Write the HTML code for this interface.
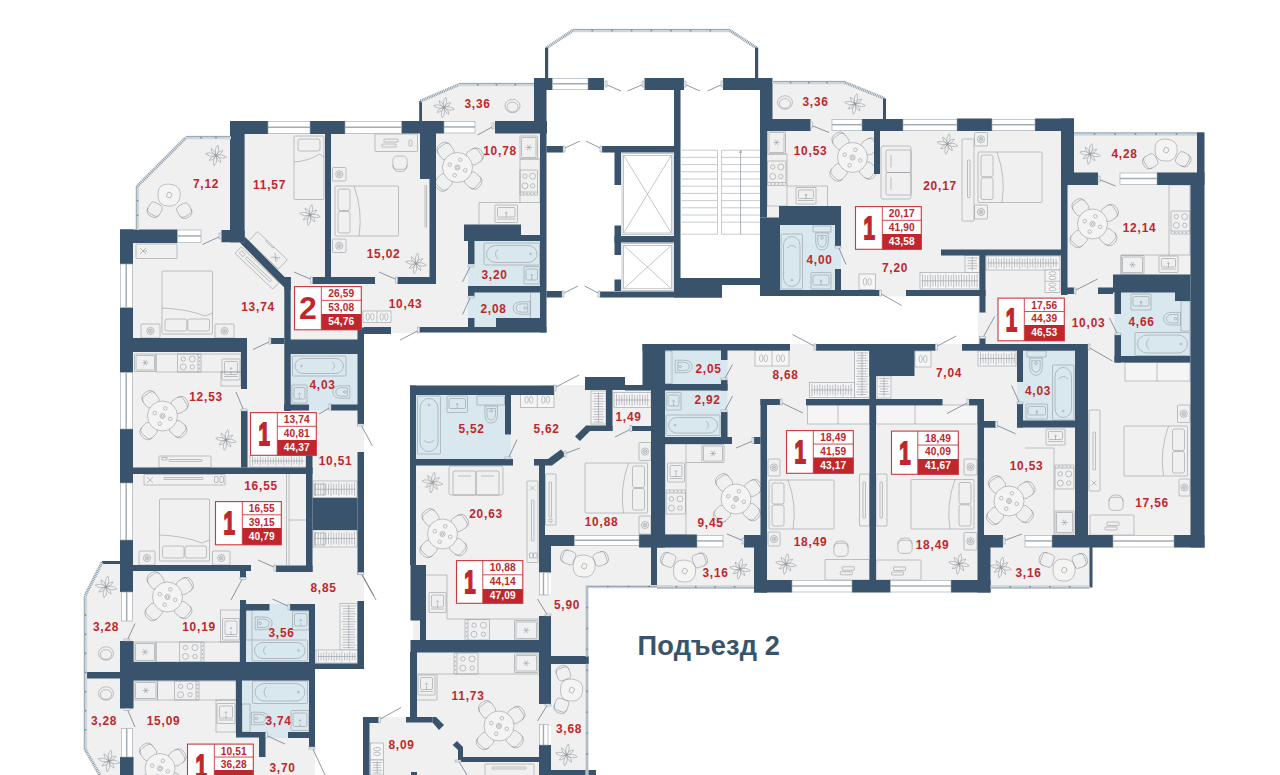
<!DOCTYPE html><html lang="ru"><head><meta charset="utf-8"><title>План этажа</title>
<style>html,body{margin:0;padding:0;background:#fff}body{width:1280px;height:775px;overflow:hidden}svg{display:block}text{font-family:"Liberation Sans",sans-serif}.l{fill:#bf272d;font-size:11.9px;font-weight:700;text-anchor:middle;letter-spacing:.8px}.s{fill:#bf272d;font-size:10.2px;font-weight:700;text-anchor:middle;letter-spacing:.15px}.sw{fill:#fff;font-size:10.2px;font-weight:700;text-anchor:middle;letter-spacing:.15px}.n{fill:#bf272d;font-size:32px;font-weight:700;text-anchor:middle}.n1{fill:#bf272d;stroke:#bf272d;stroke-width:1.8px;font-size:32px;font-weight:700;text-anchor:middle}.f{fill:none;stroke:#90959a;stroke-width:.55}.fw{fill:#f5f5f5;stroke:#90959a;stroke-width:.55}</style></head><body>
<svg width="1280" height="775" viewBox="0 0 1280 775">
<rect width="1280" height="775" fill="#fff"/>
<g fill="#f0f0f0">
<polygon points="137,186 186,137 231,137 231,230 137,230"/>
<polygon points="243,128 543,128 543,330 243,330"/>
<polygon points="389,326 422,326 422,333 389,333"/>
<polygon points="290,284 392,284 392,331 290,331"/>
<polygon points="290,284 360,284 360,341 290,341"/>
<polygon points="199,229 223,229 223,244 199,244"/>
<polygon points="473,120 497,120 497,134 473,134"/>
<polygon points="419.5,101 459,84 536,84 536,122 419.5,122"/>
<polygon points="126,243 290,243 290,775 126,775"/>
<polygon points="284,340 364,340 364,666 284,666"/>
<polygon points="284,666 315,666 315,775 284,775"/>
<polygon points="355,560 364,560 364,604 355,604"/>
<polygon points="102,562 121,562 121,775 100,775 84.5,749 84.5,596"/>
<polygon points="413,392 545,392 545,645 413,645"/>
<polygon points="539,385 655,385 655,546 539,546"/>
<polygon points="551,546 651,546 651,586 551,586"/>
<polygon points="551,586 587,586 587,775 551,775"/>
<polygon points="413,645 545,645 545,775 413,775"/>
<polygon points="366,717 460,717 460,775 366,775"/>
<polygon points="660,347 1090,347 1090,540 660,540"/>
<polygon points="765,400 980,400 980,588 765,588"/>
<polygon points="655,546 756,546 756,586 655,586"/>
<polygon points="988,546 1091,546 1091,586 988,586"/>
<polygon points="765,128 1064,128 1064,293 765,293"/>
<polygon points="877,289 908,289 908,296.5 877,296.5"/>
<polygon points="933,344 964,344 964,351 933,351"/>
<polygon points="983,252 1195,252 1195,345 983,345"/>
<polygon points="1064,180 1195,180 1195,540 1064,540"/>
<polygon points="770,82 845,82 884.5,98 884.5,120 770,120"/>
<polygon points="1072,132 1198,132 1198,175 1072,175"/>
<polygon points="1096,171 1122,171 1122,186 1096,186"/>
<polygon points="809,118 834,118 834,132 809,132"/>
<polygon points="1001,534 1027,534 1027,548 1001,548"/>
<polygon points="721,534 746,534 746,548 721,548"/>
<polygon points="538,594 552,594 552,617 538,617"/>
<polygon points="538,703 552,703 552,726 538,726"/>
<polygon points="119,620 134,620 134,642 119,642"/>
<polygon points="119,707 134,707 134,729 119,729"/>
<polygon points="788,344 818,344 818,351 788,351"/>
<polygon points="978,295 986,295 986,345 978,345"/>
</g>
<g fill="#d9e8ee">
<rect x="474.5" y="241" width="65.5" height="45"/>
<rect x="474.5" y="292.5" width="65.5" height="34.5"/>
<rect x="290" y="354" width="67.5" height="51"/>
<rect x="246" y="610" width="63" height="52"/>
<rect x="242" y="680" width="67" height="52"/>
<rect x="416" y="395" width="89" height="64"/>
<rect x="665" y="350" width="56" height="34"/>
<rect x="665" y="390" width="56" height="47"/>
<rect x="780" y="225" width="55" height="65"/>
<rect x="1121" y="292" width="69.5" height="64"/>
<rect x="1023" y="350" width="52" height="71"/>
<rect x="721" y="360" width="6.5" height="20"/>
<rect x="721" y="390" width="6.5" height="22"/>
<rect x="468" y="264" width="6.5" height="22"/>
<rect x="468" y="296.5" width="6.5" height="21.5"/>
<rect x="309" y="404.5" width="22" height="6"/>
<rect x="269.5" y="604" width="20.5" height="6.5"/>
<rect x="265.5" y="732" width="22.5" height="6"/>
<rect x="505" y="434.5" width="6" height="24.5"/>
<rect x="835" y="246" width="6" height="23"/>
<rect x="1114.5" y="314" width="6.5" height="21"/>
<rect x="1017" y="382" width="6" height="22"/>
</g>
<g class="f">
<path d="M216.0,155.5Q221.1,159.6 226.3,157.3Q222.2,153.4 216.0,155.5M216.0,155.5Q216.6,160.7 220.8,162.4Q220.7,157.8 216.0,155.5M216.0,155.5Q211.9,160.6 214.2,165.8Q218.1,161.7 216.0,155.5M216.0,155.5Q210.8,156.1 209.1,160.3Q213.7,160.2 216.0,155.5M216.0,155.5Q210.9,151.4 205.7,153.7Q209.8,157.6 216.0,155.5M216.0,155.5Q215.4,150.3 211.2,148.6Q211.3,153.2 216.0,155.5M216.0,155.5Q220.1,150.4 217.8,145.2Q213.9,149.3 216.0,155.5M216.0,155.5Q221.2,154.9 222.9,150.7Q218.3,150.8 216.0,155.5"/>
<path d="M158,195Q157.45,183.45 169,184Q182.2,185.1 180,197.2Q177.8,207.1 167.9,206Q158,206 158,195Z" fill="#f4f4f3"/>
<rect x="167" y="192.5" width="4.5" height="5" rx="1" transform="rotate(25 169 195)"/>
<g transform="translate(155,209) rotate(120)"><rect x="-5.95" y="-6.65" width="12.25" height="13.3" rx="3.85"/><path d="M2.45,-6.65Q8.75,-6.3 8.4,0Q8.75,6.3 2.45,6.65"/></g>
<g transform="translate(184,210) rotate(60)"><rect x="-5.95" y="-6.65" width="12.25" height="13.3" rx="3.85"/><path d="M2.45,-6.65Q8.75,-6.3 8.4,0Q8.75,6.3 2.45,6.65"/></g>
<rect x="294" y="136" width="30" height="63.5" rx="1"/>
<rect x="298" y="139" width="22" height="12" rx="2"/>
<path d="M294,162Q309,161 319.5,154L324,157"/>
<path d="M310.0,215.0Q315.1,219.1 320.3,216.8Q316.2,212.9 310.0,215.0M310.0,215.0Q310.6,220.2 314.8,221.9Q314.7,217.3 310.0,215.0M310.0,215.0Q305.9,220.1 308.2,225.3Q312.1,221.2 310.0,215.0M310.0,215.0Q304.8,215.6 303.1,219.8Q307.7,219.7 310.0,215.0M310.0,215.0Q304.9,210.9 299.7,213.2Q303.8,217.1 310.0,215.0M310.0,215.0Q309.4,209.8 305.2,208.1Q305.3,212.7 310.0,215.0M310.0,215.0Q314.1,209.9 311.8,204.7Q307.9,208.8 310.0,215.0M310.0,215.0Q315.2,214.4 316.9,210.2Q312.3,210.3 310.0,215.0"/>
<g transform="translate(268,250.3) rotate(43.5)"><rect x="-20.5" y="-6.5" width="41" height="13" rx="1"/><path d="M-8,-6.5v1.5h10v-1.5"/><path d="M10,0l4,-3m-4,3l4,3m-4,-3l-3,-3m3,3l-3,3m3,-3h4"/></g>
<g transform="translate(257,268) rotate(43.5)"><rect x="-26" y="-4.5" width="52" height="9" rx="1"/><rect x="-15" y="-1.2" width="34" height="2.4" rx=".6"/><rect x="-23" y="-2" width="5" height="3.5"/></g>
<rect x="375" y="134" width="42.5" height="17.5" rx="0.5"/>
<rect x="384" y="139" width="14" height="3" rx="0.5"/>
<rect x="382" y="144" width="14" height="3" rx="0.5"/>
<rect x="409" y="140" width="3" height="6" rx="0.5"/>
<g transform="translate(400,162.5) rotate(90)"><rect x="-6.375" y="-7.125" width="13.125" height="14.25" rx="4.125"/><path d="M2.625,-7.125Q9.375,-6.75 9,0Q9.375,6.75 2.625,7.125"/></g>
<rect x="332.5" y="167.5" width="13.5" height="13.5" rx="1"/>
<circle cx="339.25" cy="174.25" r="3.6"/>
<circle cx="339.25" cy="174.25" r="2"/>
<circle cx="339.25" cy="174.25" r="0.8"/>
<rect x="332.5" y="239" width="13.5" height="13.5" rx="1"/>
<circle cx="339.25" cy="245.75" r="3.6"/>
<circle cx="339.25" cy="245.75" r="2"/>
<circle cx="339.25" cy="245.75" r="0.8"/>
<rect x="335" y="186" width="63.5" height="50" rx="1"/>
<rect x="338" y="189" width="12" height="21.5" rx="2"/>
<rect x="338" y="211.5" width="12" height="21.5" rx="2"/>
<path d="M354,186Q363,211 359,236"/>
<path d="M416.0,263.5Q421.1,267.6 426.3,265.3Q422.2,261.4 416.0,263.5M416.0,263.5Q416.6,268.7 420.8,270.4Q420.7,265.8 416.0,263.5M416.0,263.5Q411.9,268.6 414.2,273.8Q418.1,269.7 416.0,263.5M416.0,263.5Q410.8,264.1 409.1,268.3Q413.7,268.2 416.0,263.5M416.0,263.5Q410.9,259.4 405.7,261.7Q409.8,265.6 416.0,263.5M416.0,263.5Q415.4,258.3 411.2,256.6Q411.3,261.2 416.0,263.5M416.0,263.5Q420.1,258.4 417.8,253.2Q413.9,257.3 416.0,263.5M416.0,263.5Q421.2,262.9 422.9,258.7Q418.3,258.8 416.0,263.5"/>
<line x1="426.5" y1="185" x2="426.5" y2="227.5"/>
<line x1="425" y1="185" x2="425" y2="227.5"/>
<g transform="translate(472.576,180.15) rotate(40)"><rect x="-6.63" y="-7.41" width="13.65" height="14.82" rx="4.29"/><path d="M2.73,-7.41Q9.75,-7.02 9.36,0Q9.75,7.02 2.73,7.41"/></g>
<g transform="translate(444.078,181.893) rotate(133)"><rect x="-6.63" y="-7.41" width="13.65" height="14.82" rx="4.29"/><path d="M2.73,-7.41Q9.75,-7.02 9.36,0Q9.75,7.02 2.73,7.41"/></g>
<g transform="translate(445.932,151.579) rotate(234)"><rect x="-6.63" y="-7.41" width="13.65" height="14.82" rx="4.29"/><path d="M2.73,-7.41Q9.75,-7.02 9.36,0Q9.75,7.02 2.73,7.41"/></g>
<g transform="translate(474.005,156.782) rotate(327)"><rect x="-6.63" y="-7.41" width="13.65" height="14.82" rx="4.29"/><path d="M2.73,-7.41Q9.75,-7.02 9.36,0Q9.75,7.02 2.73,7.41"/></g>
<circle cx="457.5" cy="167.5" r="15" fill="#f4f4f3"/>
<circle cx="457.5" cy="167.5" r="2.6"/>
<circle cx="457.5" cy="167.5" r="1.3"/>
<circle cx="465.252" cy="170.322" r="1.8"/>
<circle cx="454.678" cy="175.252" r="1.8"/>
<circle cx="449.748" cy="164.678" r="1.8"/>
<circle cx="460.322" cy="159.748" r="1.8"/>
<rect x="520" y="136" width="17.5" height="23" rx="0.5"/>
<rect x="521.5" y="137.5" width="14.5" height="20" rx="0.5"/>
<path d="M525.5,147.5L532.0,147.5M527.1,144.7L530.4,150.3M530.4,144.7L527.1,150.3"/>
<rect x="520" y="159" width="20" height="43.5"/>
<rect x="520" y="170" width="17.5" height="25" rx="0.5"/>
<line x1="520" y1="192" x2="537.5" y2="192"/>
<circle cx="523.5" cy="193.5" r="0.5"/>
<circle cx="527" cy="193.5" r="0.5"/>
<circle cx="530.5" cy="193.5" r="0.5"/>
<circle cx="534" cy="193.5" r="0.5"/>
<circle cx="524.9" cy="176.16" r="2.2"/>
<circle cx="532.6" cy="176.16" r="3"/>
<circle cx="524.9" cy="185.84" r="3"/>
<circle cx="532.6" cy="185.84" r="2.2"/>
<path d="M479,224.5V202.5H520"/>
<rect x="495" y="205" width="22.5" height="17.5" rx="0.8"/>
<rect x="497.5" y="207.5" width="17.5" height="9.5" rx="1"/>
<circle cx="506.25" cy="212.75" r="0.8"/>
<line x1="506.25" y1="217.5" x2="506.25" y2="213.5"/>
<line x1="497" y1="219" x2="515.5" y2="219"/>
<path d="M444.0,107.5Q449.1,111.6 454.3,109.3Q450.2,105.4 444.0,107.5M444.0,107.5Q444.6,112.7 448.8,114.4Q448.7,109.8 444.0,107.5M444.0,107.5Q439.9,112.6 442.2,117.8Q446.1,113.7 444.0,107.5M444.0,107.5Q438.8,108.1 437.1,112.3Q441.7,112.2 444.0,107.5M444.0,107.5Q438.9,103.4 433.7,105.7Q437.8,109.6 444.0,107.5M444.0,107.5Q443.4,102.3 439.2,100.6Q439.3,105.2 444.0,107.5M444.0,107.5Q448.1,102.4 445.8,97.2Q441.9,101.3 444.0,107.5M444.0,107.5Q449.2,106.9 450.9,102.7Q446.3,102.8 444.0,107.5"/>
<ellipse cx="512.5" cy="106" rx="7.5" ry="6.75"/><ellipse cx="512.5" cy="107" rx="5.625" ry="4.875"/>
<rect x="484" y="243" width="55.5" height="22" rx="1"/>
<rect x="486.5" y="245.5" width="50.5" height="17" rx="9"/>
<circle cx="530.5" cy="254" r="0.9"/>
<path d="M498,249Q493,254 498,259"/>
<rect x="524" y="266.5" width="15.5" height="17.5" rx="0.8"/>
<rect x="526" y="269" width="11.5" height="11" rx="1.5"/>
<circle cx="531.75" cy="275.25" r="0.8"/>
<line x1="531.75" y1="280" x2="531.75" y2="277"/>
<g transform="translate(524.2,308) rotate(180)"><path d="M-6,-6.3H2Q11,-6.3 11,0Q11,6.3 2,6.3H-6Z"/><path d="M-3.5,-4.2H2Q8,-4.2 8,0Q8,4.2 2,4.2H-3.5Z"/><circle cx="-1" cy="0" r="1.3"/></g>
<line x1="530.5" y1="292.5" x2="530.5" y2="318"/>
<rect class="fw" x="363" y="311" width="28" height="11.5"/>
<ellipse cx="367.7" cy="316.75" rx="1.7" ry="3.6"/>
<ellipse cx="372.3" cy="316.75" rx="1.7" ry="3.6"/>
<ellipse cx="381.7" cy="316.75" rx="1.7" ry="3.6"/>
<ellipse cx="386.3" cy="316.75" rx="1.7" ry="3.6"/>
<line x1="377" y1="311" x2="377" y2="322.5"/>
<rect x="136" y="244" width="41" height="14.5" rx="0.5"/>
<path d="M143,251l3,-3m-3,3l3,3m-3,-3l-3,-3m3,3l-3,3m3,-3h4"/>
<rect x="162" y="271" width="50.5" height="63" rx="1"/>
<rect x="165" y="319" width="21.75" height="12" rx="2"/>
<rect x="187.75" y="319" width="21.75" height="12" rx="2"/>
<path d="M162,308Q187.25,309 204.925,316L212.5,313"/>
<rect x="141" y="324" width="19" height="14" rx="1"/>
<circle cx="150.5" cy="331" r="3.6"/>
<circle cx="150.5" cy="331" r="2"/>
<circle cx="150.5" cy="331" r="0.8"/>
<rect x="215" y="324" width="19" height="14" rx="1"/>
<circle cx="224.5" cy="331" r="3.6"/>
<circle cx="224.5" cy="331" r="2"/>
<circle cx="224.5" cy="331" r="0.8"/>
<rect x="134.5" y="354" width="21.5" height="17.5" rx="0.5"/>
<rect x="136" y="355.5" width="18.5" height="14.5" rx="0.5"/>
<path d="M142.1,362.8L148.4,362.8M143.7,360.0L146.8,365.5M146.8,360.0L143.7,365.5"/>
<rect x="156" y="354" width="85" height="18"/>
<rect x="177.5" y="354" width="23.5" height="18" rx="0.5"/>
<line x1="198" y1="354" x2="198" y2="372"/>
<circle cx="199.5" cy="357.6" r="0.5"/>
<circle cx="199.5" cy="361.2" r="0.5"/>
<circle cx="199.5" cy="364.8" r="0.5"/>
<circle cx="199.5" cy="368.4" r="0.5"/>
<circle cx="183.24" cy="359.04" r="2.2"/>
<circle cx="183.24" cy="366.96" r="3"/>
<circle cx="192.26" cy="359.04" r="3"/>
<circle cx="192.26" cy="366.96" r="2.2"/>
<rect x="221" y="372" width="20" height="14"/>
<rect x="222" y="359" width="18" height="21" rx="0.8"/>
<rect x="224.5" y="361.5" width="13" height="13" rx="1"/>
<circle cx="231" cy="368.5" r="0.8"/>
<line x1="231" y1="375" x2="231" y2="371"/>
<line x1="224" y1="376.5" x2="238" y2="376.5"/>
<g transform="translate(177.576,428.65) rotate(40)"><rect x="-6.63" y="-7.41" width="13.65" height="14.82" rx="4.29"/><path d="M2.73,-7.41Q9.75,-7.02 9.36,0Q9.75,7.02 2.73,7.41"/></g>
<g transform="translate(149.078,430.393) rotate(133)"><rect x="-6.63" y="-7.41" width="13.65" height="14.82" rx="4.29"/><path d="M2.73,-7.41Q9.75,-7.02 9.36,0Q9.75,7.02 2.73,7.41"/></g>
<g transform="translate(150.932,400.079) rotate(234)"><rect x="-6.63" y="-7.41" width="13.65" height="14.82" rx="4.29"/><path d="M2.73,-7.41Q9.75,-7.02 9.36,0Q9.75,7.02 2.73,7.41"/></g>
<g transform="translate(179.005,405.282) rotate(327)"><rect x="-6.63" y="-7.41" width="13.65" height="14.82" rx="4.29"/><path d="M2.73,-7.41Q9.75,-7.02 9.36,0Q9.75,7.02 2.73,7.41"/></g>
<circle cx="162.5" cy="416" r="15" fill="#f4f4f3"/>
<circle cx="162.5" cy="416" r="2.6"/>
<circle cx="162.5" cy="416" r="1.3"/>
<circle cx="170.252" cy="418.822" r="1.8"/>
<circle cx="159.678" cy="423.752" r="1.8"/>
<circle cx="154.748" cy="413.178" r="1.8"/>
<circle cx="165.322" cy="408.248" r="1.8"/>
<path d="M226.0,440.0Q231.1,444.1 236.3,441.8Q232.2,437.9 226.0,440.0M226.0,440.0Q226.6,445.2 230.8,446.9Q230.7,442.3 226.0,440.0M226.0,440.0Q221.9,445.1 224.2,450.3Q228.1,446.2 226.0,440.0M226.0,440.0Q220.8,440.6 219.1,444.8Q223.7,444.7 226.0,440.0M226.0,440.0Q220.9,435.9 215.7,438.2Q219.8,442.1 226.0,440.0M226.0,440.0Q225.4,434.8 221.2,433.1Q221.3,437.7 226.0,440.0M226.0,440.0Q230.1,434.9 227.8,429.7Q223.9,433.8 226.0,440.0M226.0,440.0Q231.2,439.4 232.9,435.2Q228.3,435.3 226.0,440.0"/>
<rect x="159" y="456" width="52" height="11.5" rx="0.5"/>
<rect x="169" y="459.5" width="33" height="2" rx="0.5"/>
<rect x="162" y="457.5" width="5" height="2.5"/>
<rect x="292.5" y="356" width="53.5" height="20" rx="1"/>
<rect x="295" y="358.5" width="48.5" height="15" rx="8"/>
<circle cx="301.5" cy="366" r="0.9"/>
<path d="M332,362Q337,366 332,370"/>
<rect x="292" y="385" width="15" height="18" rx="0.8"/>
<rect x="294" y="387.5" width="11" height="11.5" rx="1.5"/>
<circle cx="299.5" cy="394" r="0.8"/>
<line x1="299.5" y1="399" x2="299.5" y2="396"/>
<g transform="translate(343.8,392) rotate(180)"><path d="M-6,-6.3H2Q11,-6.3 11,0Q11,6.3 2,6.3H-6Z"/><path d="M-3.5,-4.2H2Q8,-4.2 8,0Q8,4.2 2,4.2H-3.5Z"/><circle cx="-1" cy="0" r="1.3"/></g>
<rect x="144" y="474.5" width="81" height="10.5" rx="0.5"/>
<rect x="164" y="477.5" width="39" height="2" rx="0.5"/>
<path d="M150,480l3,-3m-3,3l3,3m-3,-3l-3,-3m3,3l-3,3"/>
<rect x="214.5" y="476.5" width="3.5" height="6" rx="0.5"/>
<rect x="220" y="476.5" width="3.5" height="6" rx="0.5"/>
<rect x="159.5" y="499" width="50" height="62" rx="1"/>
<rect x="162.5" y="546" width="21.5" height="12" rx="2"/>
<rect x="185" y="546" width="21.5" height="12" rx="2"/>
<path d="M159.5,535Q184.5,536 202,543L209.5,540"/>
<rect x="139" y="551" width="16" height="14" rx="1"/>
<circle cx="147" cy="558" r="3.6"/>
<circle cx="147" cy="558" r="2"/>
<circle cx="147" cy="558" r="0.8"/>
<rect x="212.5" y="551" width="17.5" height="14" rx="1"/>
<circle cx="221.25" cy="558" r="3.6"/>
<circle cx="221.25" cy="558" r="2"/>
<circle cx="221.25" cy="558" r="0.8"/>
<line x1="286.5" y1="474" x2="286.5" y2="565"/>
<line x1="289" y1="474" x2="289" y2="565"/>
<line x1="289" y1="520" x2="306" y2="520"/>
<rect class="fw" x="250" y="455" width="56" height="12"/>
<path d="M252.5,456.5V465.5M255.1,457.7V464.3M257.7,457.7V464.3M260.3,456.5V465.5M262.9,457.7V464.3M265.5,457.7V464.3M268.1,456.5V465.5M270.7,457.7V464.3M273.3,457.7V464.3M275.9,456.5V465.5M278.5,457.7V464.3M281.1,457.7V464.3M283.7,456.5V465.5M286.3,457.7V464.3M288.9,457.7V464.3M291.5,456.5V465.5M294.1,457.7V464.3M296.7,457.7V464.3M299.3,456.5V465.5M301.9,457.7V464.3M251.5,461H304.5"/>
<rect class="fw" x="313" y="481" width="44" height="16.5"/>
<path d="M315.5,482.5V496M318.1,483.7V494.8M320.7,483.7V494.8M323.3,482.5V496M325.9,483.7V494.8M328.5,483.7V494.8M331.1,482.5V496M333.7,483.7V494.8M336.3,483.7V494.8M338.9,482.5V496M341.5,483.7V494.8M344.1,483.7V494.8M346.7,482.5V496M349.3,483.7V494.8M351.9,483.7V494.8M354.5,482.5V496M314.5,489.25H355.5"/>
<rect class="fw" x="313" y="530" width="44" height="17"/>
<path d="M315.5,531.5V545.5M318.1,532.7V544.3M320.7,532.7V544.3M323.3,531.5V545.5M325.9,532.7V544.3M328.5,532.7V544.3M331.1,531.5V545.5M333.7,532.7V544.3M336.3,532.7V544.3M338.9,531.5V545.5M341.5,532.7V544.3M344.1,532.7V544.3M346.7,531.5V545.5M349.3,532.7V544.3M351.9,532.7V544.3M354.5,531.5V545.5M314.5,538.5H355.5"/>
<rect x="314.5" y="484" width="10.5" height="11"/>
<rect x="314.5" y="533" width="10.5" height="12"/>
<g transform="translate(182.576,609.65) rotate(40)"><rect x="-6.63" y="-7.41" width="13.65" height="14.82" rx="4.29"/><path d="M2.73,-7.41Q9.75,-7.02 9.36,0Q9.75,7.02 2.73,7.41"/></g>
<g transform="translate(154.078,611.393) rotate(133)"><rect x="-6.63" y="-7.41" width="13.65" height="14.82" rx="4.29"/><path d="M2.73,-7.41Q9.75,-7.02 9.36,0Q9.75,7.02 2.73,7.41"/></g>
<g transform="translate(155.932,581.079) rotate(234)"><rect x="-6.63" y="-7.41" width="13.65" height="14.82" rx="4.29"/><path d="M2.73,-7.41Q9.75,-7.02 9.36,0Q9.75,7.02 2.73,7.41"/></g>
<g transform="translate(184.005,586.282) rotate(327)"><rect x="-6.63" y="-7.41" width="13.65" height="14.82" rx="4.29"/><path d="M2.73,-7.41Q9.75,-7.02 9.36,0Q9.75,7.02 2.73,7.41"/></g>
<circle cx="167.5" cy="597" r="15" fill="#f4f4f3"/>
<circle cx="167.5" cy="597" r="2.6"/>
<circle cx="167.5" cy="597" r="1.3"/>
<circle cx="175.252" cy="599.822" r="1.8"/>
<circle cx="164.678" cy="604.752" r="1.8"/>
<circle cx="159.748" cy="594.178" r="1.8"/>
<circle cx="170.322" cy="589.248" r="1.8"/>
<rect x="134" y="642" width="22" height="20" rx="0.5"/>
<rect x="135.5" y="643.5" width="19" height="17" rx="0.5"/>
<path d="M141.8,652.0L148.2,652.0M143.4,649.2L146.6,654.8M146.6,649.2L143.4,654.8"/>
<rect x="156" y="642" width="84" height="20"/>
<rect x="179.5" y="642" width="24.5" height="20" rx="0.5"/>
<line x1="201" y1="642" x2="201" y2="662"/>
<circle cx="202.5" cy="646" r="0.5"/>
<circle cx="202.5" cy="650" r="0.5"/>
<circle cx="202.5" cy="654" r="0.5"/>
<circle cx="202.5" cy="658" r="0.5"/>
<circle cx="185.52" cy="647.6" r="2.2"/>
<circle cx="185.52" cy="656.4" r="3"/>
<circle cx="194.98" cy="647.6" r="3"/>
<circle cx="194.98" cy="656.4" r="2.2"/>
<rect x="220.5" y="610" width="19.5" height="32"/>
<rect x="222.5" y="618.5" width="17" height="21.5" rx="0.8"/>
<rect x="225" y="621" width="12" height="13.5" rx="1"/>
<circle cx="231" cy="628.25" r="0.8"/>
<line x1="231" y1="635" x2="231" y2="631"/>
<line x1="224.5" y1="636.5" x2="237.5" y2="636.5"/>
<g transform="translate(261.1,623.3) rotate(0)"><path d="M-6,-6.3H2Q11,-6.3 11,0Q11,6.3 2,6.3H-6Z"/><path d="M-3.5,-4.2H2Q8,-4.2 8,0Q8,4.2 2,4.2H-3.5Z"/><circle cx="-1" cy="0" r="1.3"/></g>
<rect x="292.5" y="611" width="16.5" height="19" rx="0.8"/>
<rect x="294.5" y="613.5" width="12.5" height="12.5" rx="1.5"/>
<circle cx="300.75" cy="620.5" r="0.8"/>
<line x1="300.75" y1="626" x2="300.75" y2="623"/>
<rect x="252" y="640" width="55.5" height="21" rx="1"/>
<rect x="254.5" y="642.5" width="50.5" height="16" rx="8.5"/>
<circle cx="298.5" cy="650.5" r="0.9"/>
<path d="M266,646Q261,650.5 266,655"/>
<rect x="246" y="610" width="6" height="30"/>
<rect x="134" y="681" width="23.5" height="19" rx="0.5"/>
<rect x="135.5" y="682.5" width="20.5" height="16" rx="0.5"/>
<path d="M142.6,690.5L148.9,690.5M144.2,687.7L147.3,693.3M147.3,687.7L144.2,693.3"/>
<rect x="157.5" y="681" width="78.5" height="19"/>
<rect x="174.5" y="681" width="24.5" height="19" rx="0.5"/>
<line x1="196" y1="681" x2="196" y2="700"/>
<circle cx="197.5" cy="684.8" r="0.5"/>
<circle cx="197.5" cy="688.6" r="0.5"/>
<circle cx="197.5" cy="692.4" r="0.5"/>
<circle cx="197.5" cy="696.2" r="0.5"/>
<circle cx="180.52" cy="686.32" r="2.2"/>
<circle cx="180.52" cy="694.68" r="3"/>
<circle cx="189.98" cy="686.32" r="3"/>
<circle cx="189.98" cy="694.68" r="2.2"/>
<rect x="216" y="700" width="20" height="32"/>
<rect x="217" y="703.5" width="18" height="20" rx="0.8"/>
<rect x="219.5" y="706" width="13" height="12" rx="1"/>
<circle cx="226" cy="712.5" r="0.8"/>
<line x1="226" y1="718.5" x2="226" y2="714.5"/>
<line x1="219" y1="720" x2="233" y2="720"/>
<g transform="translate(175.076,781.15) rotate(40)"><rect x="-6.63" y="-7.41" width="13.65" height="14.82" rx="4.29"/><path d="M2.73,-7.41Q9.75,-7.02 9.36,0Q9.75,7.02 2.73,7.41"/></g>
<g transform="translate(146.578,782.893) rotate(133)"><rect x="-6.63" y="-7.41" width="13.65" height="14.82" rx="4.29"/><path d="M2.73,-7.41Q9.75,-7.02 9.36,0Q9.75,7.02 2.73,7.41"/></g>
<g transform="translate(148.432,752.579) rotate(234)"><rect x="-6.63" y="-7.41" width="13.65" height="14.82" rx="4.29"/><path d="M2.73,-7.41Q9.75,-7.02 9.36,0Q9.75,7.02 2.73,7.41"/></g>
<g transform="translate(176.505,757.782) rotate(327)"><rect x="-6.63" y="-7.41" width="13.65" height="14.82" rx="4.29"/><path d="M2.73,-7.41Q9.75,-7.02 9.36,0Q9.75,7.02 2.73,7.41"/></g>
<circle cx="160" cy="768.5" r="15" fill="#f4f4f3"/>
<circle cx="160" cy="768.5" r="2.6"/>
<circle cx="160" cy="768.5" r="1.3"/>
<circle cx="167.752" cy="771.322" r="1.8"/>
<circle cx="157.178" cy="776.252" r="1.8"/>
<circle cx="152.248" cy="765.678" r="1.8"/>
<circle cx="162.822" cy="760.748" r="1.8"/>
<rect x="252.5" y="681" width="55" height="22.5" rx="1"/>
<rect x="255" y="683.5" width="50" height="17.5" rx="9.25"/>
<circle cx="298.5" cy="692.25" r="0.9"/>
<path d="M266.5,687Q261.5,692.25 266.5,697.5"/>
<g transform="translate(257.5,718.5) rotate(0)"><path d="M-6,-6.3H2Q11,-6.3 11,0Q11,6.3 2,6.3H-6Z"/><path d="M-3.5,-4.2H2Q8,-4.2 8,0Q8,4.2 2,4.2H-3.5Z"/><circle cx="-1" cy="0" r="1.3"/></g>
<rect x="291" y="710.5" width="18" height="20" rx="0.8"/>
<rect x="293" y="713" width="14" height="13.5" rx="1.5"/>
<circle cx="300" cy="720.5" r="0.8"/>
<line x1="300" y1="726.5" x2="300" y2="723.5"/>
<rect x="242" y="704" width="8" height="28"/>
<path d="M106.0,587.0Q111.3,591.3 116.8,588.9Q112.5,584.8 106.0,587.0M106.0,587.0Q106.6,592.4 111.0,594.2Q110.9,589.4 106.0,587.0M106.0,587.0Q101.7,592.3 104.1,597.8Q108.2,593.5 106.0,587.0M106.0,587.0Q100.6,587.6 98.8,592.0Q103.6,591.9 106.0,587.0M106.0,587.0Q100.7,582.7 95.2,585.1Q99.5,589.2 106.0,587.0M106.0,587.0Q105.4,581.6 101.0,579.8Q101.1,584.6 106.0,587.0M106.0,587.0Q110.3,581.7 107.9,576.2Q103.8,580.5 106.0,587.0M106.0,587.0Q111.4,586.4 113.2,582.0Q108.4,582.1 106.0,587.0"/>
<ellipse cx="106" cy="653.5" rx="7.5" ry="6.75"/><ellipse cx="106" cy="654.5" rx="5.625" ry="4.875"/>
<ellipse cx="106" cy="693.5" rx="7.5" ry="6.75"/><ellipse cx="106" cy="694.5" rx="5.625" ry="4.875"/>
<path d="M109.0,761.0Q114.3,765.3 119.8,762.9Q115.5,758.8 109.0,761.0M109.0,761.0Q109.6,766.4 114.0,768.2Q113.9,763.4 109.0,761.0M109.0,761.0Q104.7,766.3 107.1,771.8Q111.2,767.5 109.0,761.0M109.0,761.0Q103.6,761.6 101.8,766.0Q106.6,765.9 109.0,761.0M109.0,761.0Q103.7,756.7 98.2,759.1Q102.5,763.2 109.0,761.0M109.0,761.0Q108.4,755.6 104.0,753.8Q104.1,758.6 109.0,761.0M109.0,761.0Q113.3,755.7 110.9,750.2Q106.8,754.5 109.0,761.0M109.0,761.0Q114.4,760.4 116.2,756.0Q111.4,756.1 109.0,761.0"/>
<rect class="fw" x="340" y="603.5" width="17.5" height="46.5"/>
<path d="M341.5,606.0H356M342.7,608.6H354.8M342.7,611.2H354.8M341.5,613.8H356M342.7,616.4H354.8M342.7,619.0H354.8M341.5,621.6H356M342.7,624.2H354.8M342.7,626.8H354.8M341.5,629.4H356M342.7,632.0H354.8M342.7,634.6H354.8M341.5,637.2H356M342.7,639.8H354.8M342.7,642.4H354.8M341.5,645.0H356M342.7,647.6H354.8M348.75,605V648.5"/>
<rect class="fw" x="316" y="650" width="41.5" height="13"/>
<path d="M318.5,651.5V661.5M321.1,652.7V660.3M323.7,652.7V660.3M326.3,651.5V661.5M328.9,652.7V660.3M331.5,652.7V660.3M334.1,651.5V661.5M336.7,652.7V660.3M339.3,652.7V660.3M341.9,651.5V661.5M344.5,652.7V660.3M347.1,652.7V660.3M349.7,651.5V661.5M352.3,652.7V660.3M354.9,652.7V660.3M317.5,656.5H356"/>
<rect x="417.5" y="396" width="23" height="58" rx="1"/>
<rect x="420" y="398.5" width="18" height="53" rx="9.5"/>
<circle cx="429" cy="405" r="0.9"/>
<path d="M423.5,440Q429,445 434.5,440"/>
<rect x="447" y="396" width="20.5" height="16.5" rx="0.8"/>
<rect x="449" y="398.5" width="16.5" height="10" rx="1.5"/>
<circle cx="457.25" cy="404.25" r="0.8"/>
<line x1="457.25" y1="408.5" x2="457.25" y2="405.5"/>
<rect x="477" y="396" width="27.5" height="9"/>
<g transform="translate(491.2,412) rotate(90)"><path d="M-6,-6.3H2Q11,-6.3 11,0Q11,6.3 2,6.3H-6Z"/><path d="M-3.5,-4.2H2Q8,-4.2 8,0Q8,4.2 2,4.2H-3.5Z"/><circle cx="-1" cy="0" r="1.3"/></g>
<rect class="fw" x="520.5" y="392" width="33.5" height="15.5"/>
<ellipse cx="526.575" cy="399.75" rx="1.7" ry="3.6"/>
<ellipse cx="531.175" cy="399.75" rx="1.7" ry="3.6"/>
<ellipse cx="543.325" cy="399.75" rx="1.7" ry="3.6"/>
<ellipse cx="547.925" cy="399.75" rx="1.7" ry="3.6"/>
<line x1="537.25" y1="392" x2="537.25" y2="407.5"/>
<rect class="fw" x="591" y="391" width="15" height="33"/>
<path d="M592.5,393.5H604.5M593.7,396.1H603.3M593.7,398.7H603.3M592.5,401.3H604.5M593.7,403.9H603.3M593.7,406.5H603.3M592.5,409.1H604.5M593.7,411.7H603.3M593.7,414.3H603.3M592.5,416.9H604.5M593.7,419.5H603.3M593.7,422.1H603.3M598.5,392.5V422.5"/>
<rect class="fw" x="614" y="392.5" width="37" height="15"/>
<path d="M616.5,394V406M619.1,395.2V404.8M621.7,395.2V404.8M624.3,394V406M626.9,395.2V404.8M629.5,395.2V404.8M632.1,394V406M634.7,395.2V404.8M637.3,395.2V404.8M639.9,394V406M642.5,395.2V404.8M645.1,395.2V404.8M647.7,394V406M615.5,400H649.5"/>
<path d="M432.5,482.5Q437.6,486.6 442.8,484.3Q438.7,480.4 432.5,482.5M432.5,482.5Q433.1,487.7 437.3,489.4Q437.2,484.8 432.5,482.5M432.5,482.5Q428.4,487.6 430.7,492.8Q434.6,488.7 432.5,482.5M432.5,482.5Q427.3,483.1 425.6,487.3Q430.2,487.2 432.5,482.5M432.5,482.5Q427.4,478.4 422.2,480.7Q426.3,484.6 432.5,482.5M432.5,482.5Q431.9,477.3 427.7,475.6Q427.8,480.2 432.5,482.5M432.5,482.5Q436.6,477.4 434.3,472.2Q430.4,476.3 432.5,482.5M432.5,482.5Q437.7,481.9 439.4,477.7Q434.8,477.8 432.5,482.5"/>
<rect x="449" y="466" width="54" height="29" rx="2"/>
<rect x="453" y="471" width="23" height="24" rx="1.5"/>
<rect x="476" y="471" width="23" height="24" rx="1.5"/>
<line x1="458" y1="476" x2="471" y2="476"/>
<line x1="481" y1="476" x2="494" y2="476"/>
<g transform="translate(457.576,546.65) rotate(40)"><rect x="-6.63" y="-7.41" width="13.65" height="14.82" rx="4.29"/><path d="M2.73,-7.41Q9.75,-7.02 9.36,0Q9.75,7.02 2.73,7.41"/></g>
<g transform="translate(429.078,548.393) rotate(133)"><rect x="-6.63" y="-7.41" width="13.65" height="14.82" rx="4.29"/><path d="M2.73,-7.41Q9.75,-7.02 9.36,0Q9.75,7.02 2.73,7.41"/></g>
<g transform="translate(430.932,518.079) rotate(234)"><rect x="-6.63" y="-7.41" width="13.65" height="14.82" rx="4.29"/><path d="M2.73,-7.41Q9.75,-7.02 9.36,0Q9.75,7.02 2.73,7.41"/></g>
<g transform="translate(459.005,523.282) rotate(327)"><rect x="-6.63" y="-7.41" width="13.65" height="14.82" rx="4.29"/><path d="M2.73,-7.41Q9.75,-7.02 9.36,0Q9.75,7.02 2.73,7.41"/></g>
<circle cx="442.5" cy="534" r="15" fill="#f4f4f3"/>
<circle cx="442.5" cy="534" r="2.6"/>
<circle cx="442.5" cy="534" r="1.3"/>
<circle cx="450.252" cy="536.822" r="1.8"/>
<circle cx="439.678" cy="541.752" r="1.8"/>
<circle cx="434.748" cy="531.178" r="1.8"/>
<circle cx="445.322" cy="526.248" r="1.8"/>
<rect x="527" y="481" width="11" height="81.5" rx="0.5"/>
<rect x="531.5" y="500" width="2.5" height="41" rx="0.5"/>
<path d="M532.5,488l2.5,-2.5m-2.5,2.5l2.5,2.5m-2.5,-2.5l-2.5,-2.5m2.5,2.5l-2.5,2.5"/>
<rect x="529.5" y="553" width="3.5" height="5" rx="0.5"/>
<rect x="533.5" y="553" width="3.5" height="5" rx="0.5"/>
<rect x="545.5" y="474" width="10.5" height="51" rx="0.5"/>
<rect x="549" y="482" width="2.5" height="35" rx="0.5"/>
<rect x="549" y="519" width="3" height="3"/>
<rect x="585" y="463" width="62.5" height="50" rx="1"/>
<rect x="632.5" y="466" width="12" height="21.5" rx="2"/>
<rect x="632.5" y="488.5" width="12" height="21.5" rx="2"/>
<path d="M628.5,463Q619.5,488 623.5,513"/>
<rect x="639" y="442.5" width="12" height="18" rx="1"/>
<circle cx="645" cy="451.5" r="3.6"/>
<circle cx="645" cy="451.5" r="2"/>
<circle cx="645" cy="451.5" r="0.8"/>
<rect x="639" y="516" width="12" height="18" rx="1"/>
<circle cx="645" cy="525" r="3.6"/>
<circle cx="645" cy="525" r="2"/>
<circle cx="645" cy="525" r="0.8"/>
<path d="M426,575H447V619H539"/>
<rect x="429" y="592.5" width="17" height="20" rx="0.8"/>
<rect x="431.5" y="595" width="12" height="12" rx="1"/>
<circle cx="437.5" cy="601.5" r="0.8"/>
<line x1="437.5" y1="607.5" x2="437.5" y2="603.5"/>
<line x1="431" y1="609" x2="444" y2="609"/>
<rect x="465" y="619.5" width="24.5" height="20.5" rx="0.5"/>
<line x1="468" y1="619.5" x2="468" y2="640"/>
<circle cx="466.5" cy="623.6" r="0.5"/>
<circle cx="466.5" cy="627.7" r="0.5"/>
<circle cx="466.5" cy="631.8" r="0.5"/>
<circle cx="466.5" cy="635.9" r="0.5"/>
<circle cx="474.02" cy="625.24" r="2.2"/>
<circle cx="474.02" cy="634.26" r="3"/>
<circle cx="483.48" cy="625.24" r="3"/>
<circle cx="483.48" cy="634.26" r="2.2"/>
<rect x="514.5" y="620.5" width="23.5" height="19.5" rx="0.5"/>
<rect x="516" y="622" width="20.5" height="16.5" rx="0.5"/>
<path d="M523.0,630.2L529.5,630.2M524.6,627.5L527.9,633.0M527.9,627.5L524.6,633.0"/>
<path d="M573,566Q572.45,554.45 584,555Q597.2,556.1 595,568.2Q592.8,578.1 582.9,577Q573,577 573,566Z" fill="#f4f4f3"/>
<rect x="582" y="563.5" width="4.5" height="5" rx="1" transform="rotate(25 584 566)"/>
<g transform="translate(569,557.5) rotate(200)"><rect x="-5.95" y="-6.65" width="12.25" height="13.3" rx="3.85"/><path d="M2.45,-6.65Q8.75,-6.3 8.4,0Q8.75,6.3 2.45,6.65"/></g>
<g transform="translate(600,559) rotate(340)"><rect x="-5.95" y="-6.65" width="12.25" height="13.3" rx="3.85"/><path d="M2.45,-6.65Q8.75,-6.3 8.4,0Q8.75,6.3 2.45,6.65"/></g>
<path d="M417,674H539"/>
<path d="M437,674V700H417"/>
<rect x="454" y="653" width="24" height="21" rx="0.5"/>
<line x1="457" y1="653" x2="457" y2="674"/>
<circle cx="455.5" cy="657.2" r="0.5"/>
<circle cx="455.5" cy="661.4" r="0.5"/>
<circle cx="455.5" cy="665.6" r="0.5"/>
<circle cx="455.5" cy="669.8" r="0.5"/>
<circle cx="462.88" cy="658.88" r="2.2"/>
<circle cx="462.88" cy="668.12" r="3"/>
<circle cx="472.12" cy="658.88" r="3"/>
<circle cx="472.12" cy="668.12" r="2.2"/>
<rect x="514.5" y="654" width="23.5" height="18.5" rx="0.5"/>
<rect x="516" y="655.5" width="20.5" height="15.5" rx="0.5"/>
<path d="M523.0,663.2L529.5,663.2M524.6,660.5L527.9,666.0M527.9,660.5L524.6,666.0"/>
<rect x="418" y="675" width="17" height="20" rx="0.8"/>
<rect x="420.5" y="677.5" width="12" height="12" rx="1"/>
<circle cx="426.5" cy="684" r="0.8"/>
<line x1="426.5" y1="690" x2="426.5" y2="686"/>
<line x1="420" y1="691.5" x2="433" y2="691.5"/>
<g transform="translate(514.076,738.65) rotate(40)"><rect x="-6.63" y="-7.41" width="13.65" height="14.82" rx="4.29"/><path d="M2.73,-7.41Q9.75,-7.02 9.36,0Q9.75,7.02 2.73,7.41"/></g>
<g transform="translate(485.578,740.393) rotate(133)"><rect x="-6.63" y="-7.41" width="13.65" height="14.82" rx="4.29"/><path d="M2.73,-7.41Q9.75,-7.02 9.36,0Q9.75,7.02 2.73,7.41"/></g>
<g transform="translate(487.432,710.079) rotate(234)"><rect x="-6.63" y="-7.41" width="13.65" height="14.82" rx="4.29"/><path d="M2.73,-7.41Q9.75,-7.02 9.36,0Q9.75,7.02 2.73,7.41"/></g>
<g transform="translate(515.505,715.282) rotate(327)"><rect x="-6.63" y="-7.41" width="13.65" height="14.82" rx="4.29"/><path d="M2.73,-7.41Q9.75,-7.02 9.36,0Q9.75,7.02 2.73,7.41"/></g>
<circle cx="499" cy="726" r="15" fill="#f4f4f3"/>
<circle cx="499" cy="726" r="2.6"/>
<circle cx="499" cy="726" r="1.3"/>
<circle cx="506.752" cy="728.822" r="1.8"/>
<circle cx="496.178" cy="733.752" r="1.8"/>
<circle cx="491.248" cy="723.178" r="1.8"/>
<circle cx="501.822" cy="718.248" r="1.8"/>
<path d="M560.5,690Q559.95,678.45 571.5,679Q584.7,680.1 582.5,692.2Q580.3,702.1 570.4,701Q560.5,701 560.5,690Z" fill="#f4f4f3"/>
<rect x="569.5" y="687.5" width="4.5" height="5" rx="1" transform="rotate(25 571.5 690)"/>
<g transform="translate(563.5,674) rotate(250)"><rect x="-5.95" y="-6.65" width="12.25" height="13.3" rx="3.85"/><path d="M2.45,-6.65Q8.75,-6.3 8.4,0Q8.75,6.3 2.45,6.65"/></g>
<g transform="translate(561.5,705) rotate(110)"><rect x="-5.95" y="-6.65" width="12.25" height="13.3" rx="3.85"/><path d="M2.45,-6.65Q8.75,-6.3 8.4,0Q8.75,6.3 2.45,6.65"/></g>
<path d="M566.5,755.0Q571.8,759.3 577.3,756.9Q573.0,752.8 566.5,755.0M566.5,755.0Q567.1,760.4 571.5,762.2Q571.4,757.4 566.5,755.0M566.5,755.0Q562.2,760.3 564.6,765.8Q568.7,761.5 566.5,755.0M566.5,755.0Q561.1,755.6 559.3,760.0Q564.1,759.9 566.5,755.0M566.5,755.0Q561.2,750.7 555.7,753.1Q560.0,757.2 566.5,755.0M566.5,755.0Q565.9,749.6 561.5,747.8Q561.6,752.6 566.5,755.0M566.5,755.0Q570.8,749.7 568.4,744.2Q564.3,748.5 566.5,755.0M566.5,755.0Q571.9,754.4 573.7,750.0Q568.9,750.1 566.5,755.0"/>
<rect class="fw" x="370.5" y="743" width="13.2" height="17"/>
<ellipse cx="377.1" cy="749.2" rx="3.6" ry="1.7"/>
<ellipse cx="377.1" cy="753.8" rx="3.6" ry="1.7"/>
<rect class="fw" x="370.5" y="760" width="13.2" height="15"/>
<path d="M372,762.5H382.2M373.2,765.1H381M373.2,767.7H381M372,770.3H382.2M373.2,772.9H381M377.1,761.5V773.5"/>
<rect x="485" y="764" width="49" height="12" rx="0.5"/>
<rect x="492" y="767" width="34" height="2" rx="0.5"/>
<rect x="665" y="351" width="7" height="32.5"/>
<g transform="translate(681.2,366.5) rotate(0)"><path d="M-6,-6.3H2Q11,-6.3 11,0Q11,6.3 2,6.3H-6Z"/><path d="M-3.5,-4.2H2Q8,-4.2 8,0Q8,4.2 2,4.2H-3.5Z"/><circle cx="-1" cy="0" r="1.3"/></g>
<rect x="666" y="392.5" width="15" height="17.5" rx="0.8"/>
<rect x="668" y="395" width="11" height="11" rx="1.5"/>
<circle cx="673.5" cy="401.25" r="0.8"/>
<line x1="673.5" y1="406" x2="673.5" y2="403"/>
<rect x="666" y="415" width="54" height="20.5" rx="1"/>
<rect x="668.5" y="417.5" width="49" height="15.5" rx="8.25"/>
<circle cx="675" cy="425.25" r="0.9"/>
<path d="M706,421Q711,425.25 706,429.5"/>
<rect class="fw" x="755" y="350.5" width="34" height="15.5"/>
<ellipse cx="761.2" cy="358.25" rx="1.7" ry="3.6"/>
<ellipse cx="765.8" cy="358.25" rx="1.7" ry="3.6"/>
<ellipse cx="778.2" cy="358.25" rx="1.7" ry="3.6"/>
<ellipse cx="782.8" cy="358.25" rx="1.7" ry="3.6"/>
<line x1="772" y1="350.5" x2="772" y2="366"/>
<rect class="fw" x="854.5" y="350.5" width="15" height="47"/>
<path d="M856,353.0H868M857.2,355.6H866.8M857.2,358.2H866.8M856,360.8H868M857.2,363.4H866.8M857.2,366.0H866.8M856,368.6H868M857.2,371.2H866.8M857.2,373.8H866.8M856,376.4H868M857.2,379.0H866.8M857.2,381.6H866.8M856,384.2H868M857.2,386.8H866.8M857.2,389.4H866.8M856,392.0H868M857.2,394.6H866.8M862,352V396"/>
<rect class="fw" x="809.5" y="382.5" width="45" height="15"/>
<path d="M812.0,384V396M814.6,385.2V394.8M817.2,385.2V394.8M819.8,384V396M822.4,385.2V394.8M825.0,385.2V394.8M827.6,384V396M830.2,385.2V394.8M832.8,385.2V394.8M835.4,384V396M838.0,385.2V394.8M840.6,385.2V394.8M843.2,384V396M845.8,385.2V394.8M848.4,385.2V394.8M851.0,384V396M811,390H853"/>
<rect class="fw" x="877" y="376" width="14" height="22"/>
<path d="M878.5,378.5H889.5M879.7,381.1H888.3M879.7,383.7H888.3M878.5,386.3H889.5M879.7,388.9H888.3M879.7,391.5H888.3M878.5,394.1H889.5M884,377.5V396.5"/>
<rect class="fw" x="915" y="351" width="16" height="16"/>
<ellipse cx="920.7" cy="359" rx="1.7" ry="3.6"/>
<ellipse cx="925.3" cy="359" rx="1.7" ry="3.6"/>
<rect x="702" y="444.5" width="22" height="18" rx="0.5"/>
<rect x="703.5" y="446" width="19" height="15" rx="0.5"/>
<path d="M709.8,453.5L716.2,453.5M711.4,450.7L714.6,456.3M714.6,450.7L711.4,456.3"/>
<rect x="665" y="444" width="21" height="91"/>
<line x1="686" y1="462.5" x2="702" y2="462.5"/>
<line x1="686" y1="444" x2="702" y2="444"/>
<rect x="667.5" y="463" width="17" height="19" rx="0.8"/>
<rect x="670" y="465.5" width="12" height="11" rx="1"/>
<circle cx="676" cy="471.5" r="0.8"/>
<line x1="676" y1="477" x2="676" y2="473"/>
<line x1="669.5" y1="478.5" x2="682.5" y2="478.5"/>
<rect x="666" y="490" width="19.5" height="24" rx="0.5"/>
<line x1="666" y1="493" x2="685.5" y2="493"/>
<circle cx="669.9" cy="491.5" r="0.5"/>
<circle cx="673.8" cy="491.5" r="0.5"/>
<circle cx="677.7" cy="491.5" r="0.5"/>
<circle cx="681.6" cy="491.5" r="0.5"/>
<circle cx="671.46" cy="498.88" r="2.2"/>
<circle cx="680.04" cy="498.88" r="3"/>
<circle cx="671.46" cy="508.12" r="3"/>
<circle cx="680.04" cy="508.12" r="2.2"/>
<g transform="translate(751.076,511.65) rotate(40)"><rect x="-6.63" y="-7.41" width="13.65" height="14.82" rx="4.29"/><path d="M2.73,-7.41Q9.75,-7.02 9.36,0Q9.75,7.02 2.73,7.41"/></g>
<g transform="translate(722.578,513.393) rotate(133)"><rect x="-6.63" y="-7.41" width="13.65" height="14.82" rx="4.29"/><path d="M2.73,-7.41Q9.75,-7.02 9.36,0Q9.75,7.02 2.73,7.41"/></g>
<g transform="translate(724.432,483.079) rotate(234)"><rect x="-6.63" y="-7.41" width="13.65" height="14.82" rx="4.29"/><path d="M2.73,-7.41Q9.75,-7.02 9.36,0Q9.75,7.02 2.73,7.41"/></g>
<g transform="translate(752.505,488.282) rotate(327)"><rect x="-6.63" y="-7.41" width="13.65" height="14.82" rx="4.29"/><path d="M2.73,-7.41Q9.75,-7.02 9.36,0Q9.75,7.02 2.73,7.41"/></g>
<circle cx="736" cy="499" r="15" fill="#f4f4f3"/>
<circle cx="736" cy="499" r="2.6"/>
<circle cx="736" cy="499" r="1.3"/>
<circle cx="743.752" cy="501.822" r="1.8"/>
<circle cx="733.178" cy="506.752" r="1.8"/>
<circle cx="728.248" cy="496.178" r="1.8"/>
<circle cx="738.822" cy="491.248" r="1.8"/>
<rect class="fw" x="807.5" y="405" width="62" height="19"/>
<line x1="838" y1="405" x2="838" y2="424"/>
<rect x="768" y="459" width="12" height="17" rx="1"/>
<circle cx="774" cy="467.5" r="3.6"/>
<circle cx="774" cy="467.5" r="2"/>
<circle cx="774" cy="467.5" r="0.8"/>
<rect x="769" y="480" width="65" height="49" rx="1"/>
<rect x="772" y="483" width="12" height="21" rx="2"/>
<rect x="772" y="505" width="12" height="21" rx="2"/>
<path d="M788,480Q797,504.5 793,529"/>
<rect x="768" y="532" width="12" height="14" rx="1"/>
<circle cx="774" cy="539" r="3.6"/>
<circle cx="774" cy="539" r="2"/>
<circle cx="774" cy="539" r="0.8"/>
<rect x="859.5" y="474" width="10" height="52" rx="0.5"/>
<rect x="863" y="482" width="2.5" height="36" rx="0.5"/>
<path d="M786.0,564.0Q791.1,568.1 796.3,565.8Q792.2,561.9 786.0,564.0M786.0,564.0Q786.6,569.2 790.8,570.9Q790.7,566.3 786.0,564.0M786.0,564.0Q781.9,569.1 784.2,574.3Q788.1,570.2 786.0,564.0M786.0,564.0Q780.8,564.6 779.1,568.8Q783.7,568.7 786.0,564.0M786.0,564.0Q780.9,559.9 775.7,562.2Q779.8,566.1 786.0,564.0M786.0,564.0Q785.4,558.8 781.2,557.1Q781.3,561.7 786.0,564.0M786.0,564.0Q790.1,558.9 787.8,553.7Q783.9,557.8 786.0,564.0M786.0,564.0Q791.2,563.4 792.9,559.2Q788.3,559.3 786.0,564.0"/>
<rect x="825" y="559.5" width="44.5" height="20.5" rx="0.5"/>
<g transform="translate(841,550) rotate(270)"><rect x="-6.375" y="-7.125" width="13.125" height="14.25" rx="4.125"/><path d="M2.625,-7.125Q9.375,-6.75 9,0Q9.375,6.75 2.625,7.125"/></g>
<rect x="842.25" y="566.75" width="12" height="3.5" rx="0.5"/>
<rect x="840.25" y="571.75" width="12" height="3" rx="0.5"/>
<rect class="fw" x="876" y="405" width="101.5" height="19"/>
<line x1="915" y1="405" x2="915" y2="424"/>
<rect x="911" y="479.5" width="63" height="49.5" rx="1"/>
<rect x="959" y="482.5" width="12" height="21.25" rx="2"/>
<rect x="959" y="504.75" width="12" height="21.25" rx="2"/>
<path d="M955,479.5Q946,504.25 950,529"/>
<rect x="964" y="459" width="13" height="16" rx="1"/>
<circle cx="970.5" cy="467" r="3.6"/>
<circle cx="970.5" cy="467" r="2"/>
<circle cx="970.5" cy="467" r="0.8"/>
<rect x="964" y="532.5" width="13" height="17.5" rx="1"/>
<circle cx="970.5" cy="541.25" r="3.6"/>
<circle cx="970.5" cy="541.25" r="2"/>
<circle cx="970.5" cy="541.25" r="0.8"/>
<rect x="876" y="474" width="11" height="52" rx="0.5"/>
<rect x="880" y="482" width="2.5" height="36" rx="0.5"/>
<rect x="876" y="560" width="45" height="20" rx="0.5"/>
<g transform="translate(905,547) rotate(270)"><rect x="-6.375" y="-7.125" width="13.125" height="14.25" rx="4.125"/><path d="M2.625,-7.125Q9.375,-6.75 9,0Q9.375,6.75 2.625,7.125"/></g>
<rect x="893.5" y="567" width="12" height="3.5" rx="0.5"/>
<rect x="891.5" y="572" width="12" height="3" rx="0.5"/>
<path d="M959.0,564.0Q964.1,568.1 969.3,565.8Q965.2,561.9 959.0,564.0M959.0,564.0Q959.6,569.2 963.8,570.9Q963.7,566.3 959.0,564.0M959.0,564.0Q954.9,569.1 957.2,574.3Q961.1,570.2 959.0,564.0M959.0,564.0Q953.8,564.6 952.1,568.8Q956.7,568.7 959.0,564.0M959.0,564.0Q953.9,559.9 948.7,562.2Q952.8,566.1 959.0,564.0M959.0,564.0Q958.4,558.8 954.2,557.1Q954.3,561.7 959.0,564.0M959.0,564.0Q963.1,558.9 960.8,553.7Q956.9,557.8 959.0,564.0M959.0,564.0Q964.2,563.4 965.9,559.2Q961.3,559.3 959.0,564.0"/>
<path d="M673.5,571Q672.95,559.45 684.5,560Q697.7,561.1 695.5,573.2Q693.3,583.1 683.4,582Q673.5,582 673.5,571Z" fill="#f4f4f3"/>
<rect x="682.5" y="568.5" width="4.5" height="5" rx="1" transform="rotate(25 684.5 571)"/>
<g transform="translate(669,560) rotate(200)"><rect x="-5.95" y="-6.65" width="12.25" height="13.3" rx="3.85"/><path d="M2.45,-6.65Q8.75,-6.3 8.4,0Q8.75,6.3 2.45,6.65"/></g>
<g transform="translate(699,560.5) rotate(340)"><rect x="-5.95" y="-6.65" width="12.25" height="13.3" rx="3.85"/><path d="M2.45,-6.65Q8.75,-6.3 8.4,0Q8.75,6.3 2.45,6.65"/></g>
<path d="M740.0,569.0Q745.1,573.1 750.3,570.8Q746.2,566.9 740.0,569.0M740.0,569.0Q740.6,574.2 744.8,575.9Q744.7,571.3 740.0,569.0M740.0,569.0Q735.9,574.1 738.2,579.3Q742.1,575.2 740.0,569.0M740.0,569.0Q734.8,569.6 733.1,573.8Q737.7,573.7 740.0,569.0M740.0,569.0Q734.9,564.9 729.7,567.2Q733.8,571.1 740.0,569.0M740.0,569.0Q739.4,563.8 735.2,562.1Q735.3,566.7 740.0,569.0M740.0,569.0Q744.1,563.9 741.8,558.7Q737.9,562.8 740.0,569.0M740.0,569.0Q745.2,568.4 746.9,564.2Q742.3,564.3 740.0,569.0"/>
<rect class="fw" x="978" y="351" width="38" height="15"/>
<path d="M980.5,352.5V364.5M983.1,353.7V363.3M985.7,353.7V363.3M988.3,352.5V364.5M990.9,353.7V363.3M993.5,353.7V363.3M996.1,352.5V364.5M998.7,353.7V363.3M1001.3,353.7V363.3M1003.9,352.5V364.5M1006.5,353.7V363.3M1009.1,353.7V363.3M1011.7,352.5V364.5M1014.3,353.7V363.3M979.5,358.5H1014.5"/>
<rect x="1027" y="351" width="19" height="6"/>
<g transform="translate(1036,364.2) rotate(90)"><path d="M-6,-6.3H2Q11,-6.3 11,0Q11,6.3 2,6.3H-6Z"/><path d="M-3.5,-4.2H2Q8,-4.2 8,0Q8,4.2 2,4.2H-3.5Z"/><circle cx="-1" cy="0" r="1.3"/></g>
<rect x="1052.5" y="365" width="21.5" height="55" rx="1"/>
<rect x="1055" y="367.5" width="16.5" height="50" rx="8.75"/>
<circle cx="1063.25" cy="411" r="0.9"/>
<path d="M1058.5,379Q1063.25,374 1068,379"/>
<rect x="1026" y="404" width="21.5" height="15" rx="0.8"/>
<rect x="1028" y="406.5" width="17.5" height="8.5" rx="1.5"/>
<circle cx="1036.75" cy="411.5" r="0.8"/>
<line x1="1036.75" y1="415" x2="1036.75" y2="412"/>
<path d="M1025,448H1054V535"/>
<rect x="1046" y="429" width="19" height="16" rx="0.8"/>
<rect x="1048.5" y="431.5" width="14" height="8" rx="1"/>
<circle cx="1055.5" cy="436" r="0.8"/>
<line x1="1055.5" y1="440" x2="1055.5" y2="436"/>
<line x1="1048" y1="441.5" x2="1063" y2="441.5"/>
<rect x="1055" y="465" width="19" height="24" rx="0.5"/>
<line x1="1055" y1="468" x2="1074" y2="468"/>
<circle cx="1058.8" cy="466.5" r="0.5"/>
<circle cx="1062.6" cy="466.5" r="0.5"/>
<circle cx="1066.4" cy="466.5" r="0.5"/>
<circle cx="1070.2" cy="466.5" r="0.5"/>
<circle cx="1060.32" cy="473.88" r="2.2"/>
<circle cx="1068.68" cy="473.88" r="3"/>
<circle cx="1060.32" cy="483.12" r="3"/>
<circle cx="1068.68" cy="483.12" r="2.2"/>
<rect x="1055" y="511" width="19" height="23" rx="0.5"/>
<rect x="1056.5" y="512.5" width="16" height="20" rx="0.5"/>
<path d="M1061.3,522.5L1067.7,522.5M1062.9,519.7L1066.1,525.3M1066.1,519.7L1062.9,525.3"/>
<g transform="translate(1024.08,513.65) rotate(40)"><rect x="-6.63" y="-7.41" width="13.65" height="14.82" rx="4.29"/><path d="M2.73,-7.41Q9.75,-7.02 9.36,0Q9.75,7.02 2.73,7.41"/></g>
<g transform="translate(995.578,515.393) rotate(133)"><rect x="-6.63" y="-7.41" width="13.65" height="14.82" rx="4.29"/><path d="M2.73,-7.41Q9.75,-7.02 9.36,0Q9.75,7.02 2.73,7.41"/></g>
<g transform="translate(997.432,485.079) rotate(234)"><rect x="-6.63" y="-7.41" width="13.65" height="14.82" rx="4.29"/><path d="M2.73,-7.41Q9.75,-7.02 9.36,0Q9.75,7.02 2.73,7.41"/></g>
<g transform="translate(1025.51,490.282) rotate(327)"><rect x="-6.63" y="-7.41" width="13.65" height="14.82" rx="4.29"/><path d="M2.73,-7.41Q9.75,-7.02 9.36,0Q9.75,7.02 2.73,7.41"/></g>
<circle cx="1009" cy="501" r="15" fill="#f4f4f3"/>
<circle cx="1009" cy="501" r="2.6"/>
<circle cx="1009" cy="501" r="1.3"/>
<circle cx="1016.75" cy="503.822" r="1.8"/>
<circle cx="1006.18" cy="508.752" r="1.8"/>
<circle cx="1001.25" cy="498.178" r="1.8"/>
<circle cx="1011.82" cy="493.248" r="1.8"/>
<path d="M1001.0,567.5Q1006.1,571.6 1011.3,569.3Q1007.2,565.4 1001.0,567.5M1001.0,567.5Q1001.6,572.7 1005.8,574.4Q1005.7,569.8 1001.0,567.5M1001.0,567.5Q996.9,572.6 999.2,577.8Q1003.1,573.7 1001.0,567.5M1001.0,567.5Q995.8,568.1 994.1,572.3Q998.7,572.2 1001.0,567.5M1001.0,567.5Q995.9,563.4 990.7,565.7Q994.8,569.6 1001.0,567.5M1001.0,567.5Q1000.4,562.3 996.2,560.6Q996.3,565.2 1001.0,567.5M1001.0,567.5Q1005.1,562.4 1002.8,557.2Q998.9,561.3 1001.0,567.5M1001.0,567.5Q1006.2,566.9 1007.9,562.7Q1003.3,562.8 1001.0,567.5"/>
<path d="M1053,570Q1052.45,558.45 1064,559Q1077.2,560.1 1075,572.2Q1072.8,582.1 1062.9,581Q1053,581 1053,570Z" fill="#f4f4f3"/>
<rect x="1062" y="567.5" width="4.5" height="5" rx="1" transform="rotate(25 1064 570)"/>
<g transform="translate(1047.5,560) rotate(200)"><rect x="-5.95" y="-6.65" width="12.25" height="13.3" rx="3.85"/><path d="M2.45,-6.65Q8.75,-6.3 8.4,0Q8.75,6.3 2.45,6.65"/></g>
<g transform="translate(1079,561) rotate(340)"><rect x="-5.95" y="-6.65" width="12.25" height="13.3" rx="3.85"/><path d="M2.45,-6.65Q8.75,-6.3 8.4,0Q8.75,6.3 2.45,6.65"/></g>
<rect x="1089" y="410" width="11" height="81" rx="0.5"/>
<rect x="1093" y="432" width="2.5" height="38" rx="0.5"/>
<path d="M1094,483l2.5,-2.5m-2.5,2.5l2.5,2.5m-2.5,-2.5l-2.5,-2.5m2.5,2.5l-2.5,2.5"/>
<rect x="1124" y="426" width="63.5" height="50" rx="1"/>
<rect x="1172.5" y="429" width="12" height="21.5" rx="2"/>
<rect x="1172.5" y="451.5" width="12" height="21.5" rx="2"/>
<path d="M1168.5,426Q1159.5,451 1163.5,476"/>
<rect x="1179" y="479" width="11" height="17" rx="1"/>
<circle cx="1184.5" cy="487.5" r="3.6"/>
<circle cx="1184.5" cy="487.5" r="2"/>
<circle cx="1184.5" cy="487.5" r="0.8"/>
<rect x="1177.5" y="405" width="12.5" height="17.5" rx="1"/>
<circle cx="1183.75" cy="413.75" r="3.6"/>
<circle cx="1183.75" cy="413.75" r="2"/>
<circle cx="1183.75" cy="413.75" r="0.8"/>
<rect x="1090" y="515" width="44" height="20" rx="0.5"/>
<g transform="translate(1116,504) rotate(270)"><rect x="-6.375" y="-7.125" width="13.125" height="14.25" rx="4.125"/><path d="M2.625,-7.125Q9.375,-6.75 9,0Q9.375,6.75 2.625,7.125"/></g>
<rect x="1107" y="522" width="12" height="3.5" rx="0.5"/>
<rect x="1105" y="527" width="12" height="3" rx="0.5"/>
<rect class="fw" x="1125" y="362.5" width="65" height="18.5"/>
<line x1="1157" y1="362.5" x2="1157" y2="381"/>
<rect x="1131" y="294" width="20" height="16" rx="0.8"/>
<rect x="1133" y="296.5" width="16" height="9.5" rx="1.5"/>
<circle cx="1141" cy="302" r="0.8"/>
<line x1="1141" y1="306" x2="1141" y2="303"/>
<rect x="1181" y="301" width="9" height="30"/>
<g transform="translate(1174.5,318.7) rotate(180)"><path d="M-6,-6.3H2Q11,-6.3 11,0Q11,6.3 2,6.3H-6Z"/><path d="M-3.5,-4.2H2Q8,-4.2 8,0Q8,4.2 2,4.2H-3.5Z"/><circle cx="-1" cy="0" r="1.3"/></g>
<rect x="1135" y="332.5" width="55" height="23" rx="1"/>
<rect x="1137.5" y="335" width="50" height="18" rx="9.5"/>
<circle cx="1181" cy="344" r="0.9"/>
<path d="M1149,338.5Q1144,344 1149,349.5"/>
<g transform="translate(1107.58,236.65) rotate(40)"><rect x="-6.63" y="-7.41" width="13.65" height="14.82" rx="4.29"/><path d="M2.73,-7.41Q9.75,-7.02 9.36,0Q9.75,7.02 2.73,7.41"/></g>
<g transform="translate(1079.08,238.393) rotate(133)"><rect x="-6.63" y="-7.41" width="13.65" height="14.82" rx="4.29"/><path d="M2.73,-7.41Q9.75,-7.02 9.36,0Q9.75,7.02 2.73,7.41"/></g>
<g transform="translate(1080.93,208.079) rotate(234)"><rect x="-6.63" y="-7.41" width="13.65" height="14.82" rx="4.29"/><path d="M2.73,-7.41Q9.75,-7.02 9.36,0Q9.75,7.02 2.73,7.41"/></g>
<g transform="translate(1109.01,213.282) rotate(327)"><rect x="-6.63" y="-7.41" width="13.65" height="14.82" rx="4.29"/><path d="M2.73,-7.41Q9.75,-7.02 9.36,0Q9.75,7.02 2.73,7.41"/></g>
<circle cx="1092.5" cy="224" r="15" fill="#f4f4f3"/>
<circle cx="1092.5" cy="224" r="2.6"/>
<circle cx="1092.5" cy="224" r="1.3"/>
<circle cx="1100.25" cy="226.822" r="1.8"/>
<circle cx="1089.68" cy="231.752" r="1.8"/>
<circle cx="1084.75" cy="221.178" r="1.8"/>
<circle cx="1095.32" cy="216.248" r="1.8"/>
<rect x="1169" y="185" width="21" height="70"/>
<rect x="1171" y="211" width="19" height="23" rx="0.5"/>
<line x1="1171" y1="231" x2="1190" y2="231"/>
<circle cx="1174.8" cy="232.5" r="0.5"/>
<circle cx="1178.6" cy="232.5" r="0.5"/>
<circle cx="1182.4" cy="232.5" r="0.5"/>
<circle cx="1186.2" cy="232.5" r="0.5"/>
<circle cx="1176.32" cy="216.6" r="2.2"/>
<circle cx="1184.68" cy="216.6" r="3"/>
<circle cx="1176.32" cy="225.4" r="3"/>
<circle cx="1184.68" cy="225.4" r="2.2"/>
<path d="M1121,274V255H1169"/>
<rect x="1121" y="255.5" width="23" height="18.5" rx="0.5"/>
<rect x="1122.5" y="257" width="20" height="15.5" rx="0.5"/>
<path d="M1129.3,264.8L1135.7,264.8M1130.9,262.0L1134.1,267.5M1134.1,262.0L1130.9,267.5"/>
<rect x="1159" y="256" width="19" height="16.5" rx="0.8"/>
<rect x="1161.5" y="258.5" width="14" height="8.5" rx="1"/>
<circle cx="1168.5" cy="263.25" r="0.8"/>
<line x1="1168.5" y1="267.5" x2="1168.5" y2="263.5"/>
<line x1="1161" y1="269" x2="1176" y2="269"/>
<path d="M1090.0,154.0Q1095.1,158.1 1100.3,155.8Q1096.2,151.9 1090.0,154.0M1090.0,154.0Q1090.6,159.2 1094.8,160.9Q1094.7,156.3 1090.0,154.0M1090.0,154.0Q1085.9,159.1 1088.2,164.3Q1092.1,160.2 1090.0,154.0M1090.0,154.0Q1084.8,154.6 1083.1,158.8Q1087.7,158.7 1090.0,154.0M1090.0,154.0Q1084.9,149.9 1079.7,152.2Q1083.8,156.1 1090.0,154.0M1090.0,154.0Q1089.4,148.8 1085.2,147.1Q1085.3,151.7 1090.0,154.0M1090.0,154.0Q1094.1,148.9 1091.8,143.7Q1087.9,147.8 1090.0,154.0M1090.0,154.0Q1095.2,153.4 1096.9,149.2Q1092.3,149.3 1090.0,154.0"/>
<path d="M1155,150Q1154.45,138.45 1166,139Q1179.2,140.1 1177,152.2Q1174.8,162.1 1164.9,161Q1155,161 1155,150Z" fill="#f4f4f3"/>
<rect x="1164" y="147.5" width="4.5" height="5" rx="1" transform="rotate(25 1166 150)"/>
<g transform="translate(1151,161) rotate(150)"><rect x="-5.95" y="-6.65" width="12.25" height="13.3" rx="3.85"/><path d="M2.45,-6.65Q8.75,-6.3 8.4,0Q8.75,6.3 2.45,6.65"/></g>
<g transform="translate(1182.5,159) rotate(30)"><rect x="-5.95" y="-6.65" width="12.25" height="13.3" rx="3.85"/><path d="M2.45,-6.65Q8.75,-6.3 8.4,0Q8.75,6.3 2.45,6.65"/></g>
<rect x="881" y="146" width="30" height="53" rx="2"/>
<rect x="886" y="150" width="25" height="22.5" rx="1.5"/>
<rect x="886" y="172.5" width="25" height="22.5" rx="1.5"/>
<line x1="891" y1="155" x2="891" y2="167.5"/>
<line x1="891" y1="177.5" x2="891" y2="190"/>
<path d="M947.5,144.0Q952.6,148.1 957.8,145.8Q953.7,141.9 947.5,144.0M947.5,144.0Q948.1,149.2 952.3,150.9Q952.2,146.3 947.5,144.0M947.5,144.0Q943.4,149.1 945.7,154.3Q949.6,150.2 947.5,144.0M947.5,144.0Q942.3,144.6 940.6,148.8Q945.2,148.7 947.5,144.0M947.5,144.0Q942.4,139.9 937.2,142.2Q941.3,146.1 947.5,144.0M947.5,144.0Q946.9,138.8 942.7,137.1Q942.8,141.7 947.5,144.0M947.5,144.0Q951.6,138.9 949.3,133.7Q945.4,137.8 947.5,144.0M947.5,144.0Q952.7,143.4 954.4,139.2Q949.8,139.3 947.5,144.0"/>
<rect x="962" y="139" width="12" height="82" rx="0.5"/>
<rect x="967.5" y="160" width="2.5" height="37.5" rx="0.5"/>
<rect x="974.5" y="132.5" width="13" height="13.5" rx="1"/>
<circle cx="981" cy="139.25" r="3.6"/>
<circle cx="981" cy="139.25" r="2"/>
<circle cx="981" cy="139.25" r="0.8"/>
<rect x="974.5" y="205" width="13" height="14" rx="1"/>
<circle cx="981" cy="212" r="3.6"/>
<circle cx="981" cy="212" r="2"/>
<circle cx="981" cy="212" r="0.8"/>
<rect x="978" y="152" width="64" height="50.5" rx="1"/>
<rect x="981" y="155" width="12" height="21.75" rx="2"/>
<rect x="981" y="177.75" width="12" height="21.75" rx="2"/>
<path d="M997,152Q1006,177.25 1002,202.5"/>
<rect x="767.5" y="131" width="18" height="23" rx="0.5"/>
<rect x="769" y="132.5" width="15" height="20" rx="0.5"/>
<path d="M773.3,142.5L779.7,142.5M774.9,139.7L778.1,145.3M778.1,139.7L774.9,145.3"/>
<rect x="767" y="154" width="20" height="52"/>
<rect x="767.5" y="161" width="18.5" height="24.5" rx="0.5"/>
<line x1="767.5" y1="182.5" x2="786" y2="182.5"/>
<circle cx="771.2" cy="184" r="0.5"/>
<circle cx="774.9" cy="184" r="0.5"/>
<circle cx="778.6" cy="184" r="0.5"/>
<circle cx="782.3" cy="184" r="0.5"/>
<circle cx="772.68" cy="167.02" r="2.2"/>
<circle cx="780.82" cy="167.02" r="3"/>
<circle cx="772.68" cy="176.48" r="3"/>
<circle cx="780.82" cy="176.48" r="2.2"/>
<path d="M787,186H827.5V206"/>
<rect x="796" y="187.5" width="20" height="16.5" rx="0.8"/>
<rect x="798.5" y="190" width="15" height="8.5" rx="1"/>
<circle cx="806" cy="194.75" r="0.8"/>
<line x1="806" y1="199" x2="806" y2="195"/>
<line x1="798" y1="200.5" x2="814" y2="200.5"/>
<g transform="translate(867.576,170.15) rotate(40)"><rect x="-6.63" y="-7.41" width="13.65" height="14.82" rx="4.29"/><path d="M2.73,-7.41Q9.75,-7.02 9.36,0Q9.75,7.02 2.73,7.41"/></g>
<g transform="translate(839.078,171.893) rotate(133)"><rect x="-6.63" y="-7.41" width="13.65" height="14.82" rx="4.29"/><path d="M2.73,-7.41Q9.75,-7.02 9.36,0Q9.75,7.02 2.73,7.41"/></g>
<g transform="translate(840.932,141.579) rotate(234)"><rect x="-6.63" y="-7.41" width="13.65" height="14.82" rx="4.29"/><path d="M2.73,-7.41Q9.75,-7.02 9.36,0Q9.75,7.02 2.73,7.41"/></g>
<g transform="translate(869.005,146.782) rotate(327)"><rect x="-6.63" y="-7.41" width="13.65" height="14.82" rx="4.29"/><path d="M2.73,-7.41Q9.75,-7.02 9.36,0Q9.75,7.02 2.73,7.41"/></g>
<circle cx="852.5" cy="157.5" r="15" fill="#f4f4f3"/>
<circle cx="852.5" cy="157.5" r="2.6"/>
<circle cx="852.5" cy="157.5" r="1.3"/>
<circle cx="860.252" cy="160.322" r="1.8"/>
<circle cx="849.678" cy="165.252" r="1.8"/>
<circle cx="844.748" cy="154.678" r="1.8"/>
<circle cx="855.322" cy="149.748" r="1.8"/>
<ellipse cx="785" cy="102.5" rx="7.5" ry="6.75"/><ellipse cx="785" cy="103.5" rx="5.625" ry="4.875"/>
<path d="M855.0,104.0Q860.1,108.1 865.3,105.8Q861.2,101.9 855.0,104.0M855.0,104.0Q855.6,109.2 859.8,110.9Q859.7,106.3 855.0,104.0M855.0,104.0Q850.9,109.1 853.2,114.3Q857.1,110.2 855.0,104.0M855.0,104.0Q849.8,104.6 848.1,108.8Q852.7,108.7 855.0,104.0M855.0,104.0Q849.9,99.9 844.7,102.2Q848.8,106.1 855.0,104.0M855.0,104.0Q854.4,98.8 850.2,97.1Q850.3,101.7 855.0,104.0M855.0,104.0Q859.1,98.9 856.8,93.7Q852.9,97.8 855.0,104.0M855.0,104.0Q860.2,103.4 861.9,99.2Q857.3,99.3 855.0,104.0"/>
<rect x="781" y="234" width="21.5" height="55" rx="1"/>
<rect x="783.5" y="236.5" width="16.5" height="50" rx="8.75"/>
<circle cx="791.75" cy="280" r="0.9"/>
<path d="M787,248Q791.75,243 796.5,248"/>
<rect x="813" y="226" width="18" height="6"/>
<g transform="translate(822,239) rotate(90)"><path d="M-6,-6.3H2Q11,-6.3 11,0Q11,6.3 2,6.3H-6Z"/><path d="M-3.5,-4.2H2Q8,-4.2 8,0Q8,4.2 2,4.2H-3.5Z"/><circle cx="-1" cy="0" r="1.3"/></g>
<rect x="811" y="272.5" width="20" height="16.5" rx="0.8"/>
<rect x="813" y="275" width="16" height="10" rx="1.5"/>
<circle cx="821" cy="280.75" r="0.8"/>
<line x1="821" y1="285" x2="821" y2="282"/>
<rect class="fw" x="859" y="274" width="16.5" height="15.5"/>
<ellipse cx="864.95" cy="281.75" rx="1.7" ry="3.6"/>
<ellipse cx="869.55" cy="281.75" rx="1.7" ry="3.6"/>
<rect class="fw" x="920" y="272.5" width="59.5" height="16.5"/>
<path d="M922.5,274V287.5M925.1,275.2V286.3M927.7,275.2V286.3M930.3,274V287.5M932.9,275.2V286.3M935.5,275.2V286.3M938.1,274V287.5M940.7,275.2V286.3M943.3,275.2V286.3M945.9,274V287.5M948.5,275.2V286.3M951.1,275.2V286.3M953.7,274V287.5M956.3,275.2V286.3M958.9,275.2V286.3M961.5,274V287.5M964.1,275.2V286.3M966.7,275.2V286.3M969.3,274V287.5M971.9,275.2V286.3M974.5,275.2V286.3M977.1,274V287.5M921.5,280.75H978"/>
<rect class="fw" x="965" y="255.5" width="14.5" height="17"/>
<path d="M966.5,258.0H978M967.7,260.6H976.8M967.7,263.2H976.8M966.5,265.8H978M967.7,268.4H976.8M972.25,257V271"/>
<rect class="fw" x="986" y="256" width="74" height="14"/>
<path d="M988.5,257.5V268.5M991.1,258.7V267.3M993.7,258.7V267.3M996.3,257.5V268.5M998.9,258.7V267.3M1001.5,258.7V267.3M1004.1,257.5V268.5M1006.7,258.7V267.3M1009.3,258.7V267.3M1011.9,257.5V268.5M1014.5,258.7V267.3M1017.1,258.7V267.3M1019.7,257.5V268.5M1022.3,258.7V267.3M1024.9,258.7V267.3M1027.5,257.5V268.5M1030.1,258.7V267.3M1032.7,258.7V267.3M1035.3,257.5V268.5M1037.9,258.7V267.3M1040.5,258.7V267.3M1043.1,257.5V268.5M1045.7,258.7V267.3M1048.3,258.7V267.3M1050.9,257.5V268.5M1053.5,258.7V267.3M1056.1,258.7V267.3M987.5,263H1058.5"/>
<rect class="fw" x="1045" y="270" width="15" height="22.5"/>
<ellipse cx="1052.5" cy="273.325" rx="3.6" ry="1.7"/>
<ellipse cx="1052.5" cy="277.925" rx="3.6" ry="1.7"/>
<ellipse cx="1052.5" cy="284.575" rx="3.6" ry="1.7"/>
<ellipse cx="1052.5" cy="289.175" rx="3.6" ry="1.7"/>
<line x1="1045" y1="281.25" x2="1060" y2="281.25"/>
</g>
<g fill="#38536b">
<rect x="230" y="121" width="38" height="13"/>
<rect x="230" y="121" width="14.6" height="121.3"/>
<rect x="310" y="121" width="35" height="13"/>
<rect x="325" y="134" width="6" height="150"/>
<rect x="312.5" y="277" width="62.5" height="7"/>
<rect x="401.5" y="121" width="42.5" height="12.5"/>
<rect x="420" y="121" width="16" height="58"/>
<rect x="429.5" y="179" width="6.5" height="105"/>
<rect x="397.5" y="277" width="38.5" height="7"/>
<rect x="495" y="121" width="52" height="12.5"/>
<rect x="534" y="78" width="18.5" height="12"/>
<rect x="534" y="90" width="12.5" height="43"/>
<rect x="540" y="133" width="6.5" height="199.5"/>
<rect x="419.5" y="327" width="127" height="5.5"/>
<rect x="464" y="224.5" width="57" height="10.5"/>
<rect x="464" y="235" width="76" height="6"/>
<rect x="468" y="241" width="6.5" height="23"/>
<rect x="468" y="286" width="72" height="6.5"/>
<rect x="468" y="292" width="6.5" height="4.5"/>
<rect x="468" y="318" width="6.5" height="9"/>
<rect x="496" y="318" width="44" height="9"/>
<rect x="364" y="327" width="27" height="7"/>
<rect x="221.5" y="230" width="23.1" height="12.3"/>
<rect x="120" y="229.5" width="57.5" height="13.5"/>
<rect x="120" y="229.5" width="13" height="34.5"/>
<rect x="120" y="307.5" width="13" height="65"/>
<rect x="120" y="429" width="13" height="54"/>
<rect x="120" y="540" width="13" height="52"/>
<rect x="120" y="641" width="13.5" height="67.5"/>
<rect x="120" y="757" width="13.5" height="18"/>
<rect x="133" y="338" width="114" height="14"/>
<rect x="241" y="352" width="6" height="37"/>
<rect x="284.3" y="277" width="6.4" height="134"/>
<rect x="271" y="338" width="13.3" height="6"/>
<rect x="290" y="339.5" width="72.5" height="14.5"/>
<rect x="357.5" y="327.5" width="6.5" height="96.5"/>
<rect x="357.5" y="452" width="6.5" height="120.5"/>
<rect x="284" y="404.5" width="25" height="6"/>
<rect x="331" y="404.5" width="33" height="6"/>
<rect x="133" y="467.5" width="179.5" height="6.5"/>
<rect x="241" y="411" width="6.5" height="56.5"/>
<rect x="306" y="455" width="6.5" height="117"/>
<rect x="276" y="565.5" width="36.5" height="6.5"/>
<rect x="133" y="565" width="118" height="6"/>
<rect x="240" y="571" width="6" height="6.5"/>
<rect x="312.5" y="498" width="45" height="32"/>
<rect x="133" y="662" width="182" height="18.5"/>
<rect x="84" y="672" width="36" height="6.5"/>
<rect x="240" y="600" width="6" height="62"/>
<rect x="240" y="604" width="29.5" height="6.5"/>
<rect x="290" y="604" width="25" height="6.5"/>
<rect x="309" y="604" width="6" height="143"/>
<rect x="357.5" y="601" width="6.5" height="68"/>
<rect x="315" y="663.5" width="49" height="5.5"/>
<rect x="236" y="680" width="6" height="57"/>
<rect x="236" y="732" width="29.5" height="5.5"/>
<rect x="259" y="732" width="6.5" height="25"/>
<rect x="288" y="732" width="27" height="6"/>
<rect x="102" y="561" width="18" height="3"/>
<rect x="410" y="385.5" width="6" height="179.5"/>
<rect x="410" y="385.5" width="144" height="9.5"/>
<rect x="505" y="395" width="6" height="39.5"/>
<rect x="416" y="459" width="97" height="6.5"/>
<rect x="534" y="459" width="18" height="6.5"/>
<rect x="539" y="465" width="6" height="81"/>
<rect x="545" y="535" width="29.5" height="11"/>
<rect x="639" y="535" width="13" height="11"/>
<rect x="651" y="385" width="13.5" height="161"/>
<rect x="585" y="377" width="40" height="13"/>
<rect x="625" y="385" width="26" height="5.5"/>
<rect x="606" y="390" width="6.5" height="41"/>
<rect x="586" y="425.5" width="26.5" height="5.5"/>
<rect x="632" y="426" width="19" height="5"/>
<rect x="410.5" y="565" width="15.5" height="55.5"/>
<rect x="420" y="620" width="6" height="20"/>
<rect x="410.5" y="640" width="140.5" height="12.5"/>
<rect x="410" y="652" width="7" height="65"/>
<rect x="406" y="717" width="26.5" height="5.5"/>
<rect x="458" y="757" width="82" height="5"/>
<rect x="539" y="540" width="12" height="32.5"/>
<rect x="539" y="616" width="12" height="88"/>
<rect x="539" y="745" width="12" height="30"/>
<rect x="551" y="656" width="38" height="8"/>
<rect x="551" y="770" width="45" height="5"/>
<rect x="363" y="717" width="15.6" height="6"/>
<rect x="363" y="717" width="6.5" height="58"/>
<rect x="411" y="772" width="6" height="3"/>
<rect x="588" y="78" width="16" height="12"/>
<rect x="644.5" y="78" width="39.5" height="12"/>
<rect x="674" y="90" width="6.5" height="201"/>
<rect x="602" y="146" width="72" height="6.5"/>
<rect x="546.5" y="146" width="16.5" height="6.5"/>
<rect x="614.5" y="152" width="6.5" height="33"/>
<rect x="614.5" y="225.5" width="6.5" height="29.5"/>
<rect x="614.5" y="279.5" width="6.5" height="11.5"/>
<rect x="614.5" y="236" width="59.5" height="6.5"/>
<rect x="600" y="291.5" width="122" height="6"/>
<rect x="674" y="278" width="48" height="19.5"/>
<rect x="722" y="278" width="38.5" height="7"/>
<rect x="546.5" y="291" width="15.5" height="6.5"/>
<rect x="723" y="78" width="49.5" height="12"/>
<rect x="760" y="90" width="12.5" height="41"/>
<rect x="760" y="119" width="50.5" height="12"/>
<rect x="760" y="131" width="7" height="86.5"/>
<rect x="760" y="217.5" width="20" height="78.5"/>
<rect x="779" y="206" width="62" height="19"/>
<rect x="835" y="225" width="6" height="21"/>
<rect x="835" y="269" width="6" height="21"/>
<rect x="760" y="290" width="119" height="6"/>
<rect x="906" y="290" width="79.5" height="6"/>
<rect x="862" y="119" width="40.5" height="12"/>
<rect x="874" y="131" width="6" height="43"/>
<rect x="957" y="118.5" width="35" height="12.5"/>
<rect x="1035" y="118.5" width="39" height="12.5"/>
<rect x="898" y="119" width="5" height="12"/>
<rect x="1061" y="118.5" width="13" height="66.5"/>
<rect x="1061" y="172.5" width="37" height="12.5"/>
<rect x="1061" y="185" width="6.5" height="110"/>
<rect x="1067" y="287.5" width="7" height="6.5"/>
<rect x="1197" y="132.3" width="7.5" height="52.7"/>
<rect x="1157" y="172.5" width="47.5" height="12.5"/>
<rect x="1190.5" y="185" width="14" height="362.5"/>
<rect x="941" y="249.5" width="120" height="6"/>
<rect x="979.5" y="255" width="6" height="57.5"/>
<rect x="1113" y="274.5" width="77.5" height="18"/>
<rect x="1098" y="287.5" width="15" height="6.5"/>
<rect x="1175" y="292" width="15.5" height="9"/>
<rect x="1114.5" y="292" width="6.5" height="22"/>
<rect x="1114.5" y="335" width="6.5" height="27.5"/>
<rect x="1114.5" y="356" width="76" height="6.5"/>
<rect x="642.5" y="344" width="147.5" height="6.5"/>
<rect x="816" y="344" width="119.4" height="6.7"/>
<rect x="962" y="344" width="126" height="6.7"/>
<rect x="979.5" y="338.3" width="6" height="5.7"/>
<rect x="642.5" y="344" width="22.5" height="41.5"/>
<rect x="651" y="385" width="14" height="162.5"/>
<rect x="639" y="534.5" width="58" height="13"/>
<rect x="651" y="547" width="6" height="41"/>
<rect x="721" y="350" width="6.5" height="10"/>
<rect x="721" y="380" width="6.5" height="10.5"/>
<rect x="665" y="384" width="62.5" height="6.5"/>
<rect x="721" y="412" width="6.5" height="32"/>
<rect x="665" y="437" width="67" height="7"/>
<rect x="760.5" y="399" width="6.5" height="193.5"/>
<rect x="760.5" y="399" width="19.5" height="6"/>
<rect x="754" y="437" width="6.5" height="7"/>
<rect x="806" y="399" width="136.5" height="6.3"/>
<rect x="869.5" y="350" width="6.5" height="230"/>
<rect x="869.5" y="350" width="45" height="26"/>
<rect x="744" y="535" width="23" height="12.5"/>
<rect x="754" y="547" width="13" height="45.5"/>
<rect x="754" y="580" width="38" height="12.5"/>
<rect x="852" y="580" width="38.5" height="12.5"/>
<rect x="969" y="399" width="15" height="6.3"/>
<rect x="977.5" y="405" width="6.5" height="130"/>
<rect x="984" y="421" width="12" height="6.7"/>
<rect x="977.5" y="535" width="13" height="57.5"/>
<rect x="984" y="535" width="19" height="12.5"/>
<rect x="951" y="580" width="39.5" height="12.5"/>
<rect x="1017" y="350" width="6" height="32"/>
<rect x="1017" y="404" width="6" height="23.5"/>
<rect x="1017" y="420.5" width="71" height="7"/>
<rect x="1075" y="350" width="13" height="185"/>
<rect x="1052" y="535" width="61" height="12.5"/>
<rect x="1174" y="535" width="30.5" height="12.5"/>
<rect x="1089.5" y="547" width="3" height="40.5"/>
<polygon points="244.6,236.5 284.6,277 290.7,277 290.7,290 284.3,290 284.3,287.5 239.5,242.3 244.6,242.3"/>
<polygon points="548,459 561,449.5 566,455 552,465.5"/>
<polygon points="586,425.5 590,431 580,441 575,436.5"/>
<polygon points="432.5,717 436,717 444,725 439,730 432.5,722.5"/>
<polygon points="452.7,745 457,741 463,747 463,762 458,762 458,750"/>
</g>
<g fill="#fff" stroke="#9aa4ac" stroke-width=".6">
<rect x="268" y="121.5" width="42" height="12"/>
<rect x="345" y="121.5" width="56.5" height="12"/>
<rect x="444" y="121.5" width="31" height="11.5"/>
<rect x="552.5" y="78.5" width="35.5" height="11"/>
<rect x="832" y="119.5" width="30" height="11"/>
<rect x="903" y="119.5" width="54" height="11"/>
<rect x="992" y="119.5" width="43" height="11"/>
<rect x="1120" y="173" width="37" height="11.5"/>
<rect x="177.5" y="230" width="23.5" height="12.5"/>
<rect x="574.5" y="535.5" width="64.5" height="10"/>
<rect x="697" y="535.5" width="26" height="11.5"/>
<rect x="792" y="580.5" width="60" height="11.5"/>
<rect x="890.5" y="580.5" width="60.5" height="11.5"/>
<rect x="1025" y="535.5" width="27" height="11.5"/>
<rect x="1113" y="535.5" width="61" height="11.5"/>
<rect x="120.5" y="264" width="12" height="43.5"/>
<rect x="120.5" y="372.5" width="12" height="56.5"/>
<rect x="120.5" y="483" width="12" height="57"/>
<rect x="121.5" y="592" width="11" height="29"/>
<rect x="121.5" y="728.5" width="11" height="28.5"/>
<rect x="539.5" y="572.5" width="8.5" height="22.5"/>
<rect x="539.5" y="724.6" width="8.5" height="20.4"/>
</g>
<g stroke="#a4adb4" stroke-width="1.5">
<line x1="268" y1="127.2" x2="310" y2="127.2"/>
<line x1="345" y1="127.2" x2="401.5" y2="127.2"/>
<line x1="444" y1="126.95" x2="475" y2="126.95"/>
<line x1="552.5" y1="83.7" x2="588" y2="83.7"/>
<line x1="832" y1="124.7" x2="862" y2="124.7"/>
<line x1="903" y1="124.7" x2="957" y2="124.7"/>
<line x1="992" y1="124.7" x2="1035" y2="124.7"/>
<line x1="1120" y1="178.45" x2="1157" y2="178.45"/>
<line x1="177.5" y1="235.95" x2="201" y2="235.95"/>
<line x1="574.5" y1="540.2" x2="639" y2="540.2"/>
<line x1="697" y1="540.95" x2="723" y2="540.95"/>
<line x1="792" y1="585.95" x2="852" y2="585.95"/>
<line x1="890.5" y1="585.95" x2="951" y2="585.95"/>
<line x1="1025" y1="540.95" x2="1052" y2="540.95"/>
<line x1="1113" y1="540.95" x2="1174" y2="540.95"/>
<line x1="126.2" y1="264" x2="126.2" y2="307.5"/>
<line x1="126.2" y1="372.5" x2="126.2" y2="429"/>
<line x1="126.2" y1="483" x2="126.2" y2="540"/>
<line x1="126.7" y1="592" x2="126.7" y2="621"/>
<line x1="126.7" y1="728.5" x2="126.7" y2="757"/>
<line x1="543.45" y1="572.5" x2="543.45" y2="595"/>
<line x1="543.45" y1="724.6" x2="543.45" y2="745"/>
</g>
<g stroke="#5f6e7b" stroke-width=".7" fill="none">
<line x1="494" y1="126" x2="477.5" y2="135"/>
<line x1="605" y1="84" x2="621" y2="91"/>
<line x1="644" y1="84" x2="627.5" y2="91"/>
<line x1="684" y1="84" x2="700" y2="91"/>
<line x1="723" y1="84" x2="707.5" y2="91"/>
<line x1="563" y1="149" x2="580" y2="141"/>
<line x1="602" y1="149" x2="586" y2="141"/>
<line x1="562" y1="294" x2="578" y2="286"/>
<line x1="600" y1="294" x2="584.5" y2="286"/>
<line x1="471" y1="265" x2="462.5" y2="282"/>
<line x1="471" y1="296" x2="462.5" y2="314.5"/>
<line x1="419.5" y1="330" x2="400" y2="340"/>
<line x1="221" y1="236" x2="202.5" y2="244.5"/>
<line x1="312.5" y1="280" x2="294" y2="272"/>
<line x1="397.5" y1="280" x2="379" y2="272"/>
<line x1="271" y1="341" x2="253" y2="349.5"/>
<line x1="244" y1="411" x2="236" y2="392"/>
<line x1="331" y1="407" x2="319" y2="414"/>
<line x1="360.5" y1="424" x2="372.5" y2="446"/>
<line x1="276" y1="568" x2="258" y2="560"/>
<line x1="243" y1="577.5" x2="231" y2="600"/>
<line x1="360.5" y1="572.5" x2="376" y2="600"/>
<line x1="290" y1="607" x2="272.5" y2="599"/>
<line x1="127" y1="641" x2="135" y2="623.5"/>
<line x1="127" y1="708.5" x2="135" y2="727"/>
<line x1="265.5" y1="735" x2="285" y2="744"/>
<line x1="312" y1="747" x2="325" y2="775"/>
<line x1="554" y1="388" x2="579" y2="375"/>
<line x1="508" y1="459" x2="517" y2="439.5"/>
<line x1="564" y1="454" x2="580" y2="448"/>
<line x1="632" y1="428.5" x2="615" y2="437"/>
<line x1="548" y1="616" x2="537.5" y2="599"/>
<line x1="548" y1="704" x2="537.5" y2="721"/>
<line x1="361" y1="572.5" x2="374" y2="596"/>
<line x1="378.6" y1="720" x2="401" y2="707.5"/>
<line x1="458" y1="760" x2="467" y2="775"/>
<line x1="816" y1="347" x2="792.5" y2="334.5"/>
<line x1="724" y1="380" x2="732.5" y2="364.5"/>
<line x1="724" y1="412" x2="732.5" y2="396"/>
<line x1="780" y1="402" x2="803" y2="413"/>
<line x1="754" y1="440.5" x2="736" y2="448"/>
<line x1="879.5" y1="293" x2="901.5" y2="305.4"/>
<line x1="935.4" y1="347" x2="956.3" y2="336"/>
<line x1="982.5" y1="338.3" x2="994.7" y2="316.5"/>
<line x1="969" y1="402" x2="947" y2="413.5"/>
<line x1="995.3" y1="424.6" x2="1015.6" y2="433.8"/>
<line x1="1020" y1="404" x2="1011.6" y2="385.6"/>
<line x1="1074" y1="291" x2="1097.5" y2="279"/>
<line x1="1118" y1="335" x2="1109.5" y2="318"/>
<line x1="1088" y1="347" x2="1112.5" y2="361"/>
<line x1="1003" y1="541" x2="1022" y2="534"/>
<line x1="744" y1="541" x2="727" y2="534"/>
<line x1="1098" y1="179" x2="1115.5" y2="186"/>
<line x1="810.5" y1="125" x2="829" y2="132.5"/>
<line x1="838" y1="246" x2="846" y2="264.5"/>
</g>
<g fill="#eef1f3" stroke="#8a96a0" stroke-width=".5">
<rect x="492" y="123" width="2" height="6"/>
<rect x="605" y="81" width="2" height="6"/>
<rect x="642" y="81" width="2" height="6"/>
<rect x="684" y="81" width="2" height="6"/>
<rect x="721" y="81" width="2" height="6"/>
<rect x="563" y="146" width="2" height="6"/>
<rect x="600" y="146" width="2" height="6"/>
<rect x="562" y="291" width="2" height="6"/>
<rect x="598" y="291" width="2" height="6"/>
<rect x="468" y="265" width="6" height="2"/>
<rect x="468" y="296" width="6" height="2"/>
<rect x="417.5" y="327" width="2" height="6"/>
<rect x="219" y="233" width="2" height="6"/>
<rect x="310.5" y="277" width="2" height="6"/>
<rect x="395.5" y="277" width="2" height="6"/>
<rect x="269" y="338" width="2" height="6"/>
<rect x="241" y="409" width="6" height="2"/>
<rect x="329" y="404" width="2" height="6"/>
<rect x="357.5" y="424" width="6" height="2"/>
<rect x="274" y="565" width="2" height="6"/>
<rect x="240" y="577.5" width="6" height="2"/>
<rect x="357.5" y="572.5" width="6" height="2"/>
<rect x="288" y="604" width="2" height="6"/>
<rect x="124" y="639" width="6" height="2"/>
<rect x="124" y="708.5" width="6" height="2"/>
<rect x="265.5" y="732" width="2" height="6"/>
<rect x="309" y="747" width="6" height="2"/>
<rect x="554" y="385" width="2" height="6"/>
<rect x="505" y="457" width="6" height="2"/>
<rect x="564" y="451" width="2" height="6"/>
<rect x="630" y="425.5" width="2" height="6"/>
<rect x="545" y="614" width="6" height="2"/>
<rect x="545" y="704" width="6" height="2"/>
<rect x="358" y="572.5" width="6" height="2"/>
<rect x="378.6" y="717" width="2" height="6"/>
<rect x="455" y="760" width="6" height="2"/>
<rect x="814" y="344" width="2" height="6"/>
<rect x="721" y="378" width="6" height="2"/>
<rect x="721" y="410" width="6" height="2"/>
<rect x="780" y="399" width="2" height="6"/>
<rect x="752" y="437.5" width="2" height="6"/>
<rect x="879.5" y="290" width="2" height="6"/>
<rect x="935.4" y="344" width="2" height="6"/>
<rect x="979.5" y="336.3" width="6" height="2"/>
<rect x="967" y="399" width="2" height="6"/>
<rect x="995.3" y="421.6" width="2" height="6"/>
<rect x="1017" y="402" width="6" height="2"/>
<rect x="1074" y="288" width="2" height="6"/>
<rect x="1115" y="333" width="6" height="2"/>
<rect x="1088" y="344" width="2" height="6"/>
<rect x="1003" y="538" width="2" height="6"/>
<rect x="742" y="538" width="2" height="6"/>
<rect x="1098" y="176" width="2" height="6"/>
<rect x="810.5" y="122" width="2" height="6"/>
<rect x="835" y="246" width="6" height="2"/>
</g>
<path d="M572.6,30.6L730,30.6" fill="none" stroke="#cfd6db" stroke-width="3.2"/>
<path d="M572.6,30.6L730,30.6" fill="none" stroke="#8ea0ae" stroke-width=".9" transform="translate(0,-1.2)"/>
<rect x="591.475" y="29.8" width="1.6" height="1.6" fill="#7d8f9d"/>
<rect x="611.15" y="29.8" width="1.6" height="1.6" fill="#7d8f9d"/>
<rect x="630.825" y="29.8" width="1.6" height="1.6" fill="#7d8f9d"/>
<rect x="650.5" y="29.8" width="1.6" height="1.6" fill="#7d8f9d"/>
<rect x="670.175" y="29.8" width="1.6" height="1.6" fill="#7d8f9d"/>
<rect x="689.85" y="29.8" width="1.6" height="1.6" fill="#7d8f9d"/>
<rect x="709.525" y="29.8" width="1.6" height="1.6" fill="#7d8f9d"/>
<line x1="546.6" y1="47.8" x2="572.6" y2="30.6" stroke="#dfe4e8" stroke-width="3.2"/>
<line x1="546.6" y1="47.8" x2="572.6" y2="30.6" stroke="#7e8f9d" stroke-width="3" stroke-dasharray=".7 1.1"/>
<line x1="730" y1="30.6" x2="756.5" y2="47.8" stroke="#dfe4e8" stroke-width="3.2"/>
<line x1="730" y1="30.6" x2="756.5" y2="47.8" stroke="#7e8f9d" stroke-width="3" stroke-dasharray=".7 1.1"/>
<rect x="545" y="47.6" width="3.2" height="30.4" fill="#38536b"/>
<rect x="755" y="47.6" width="3.2" height="30.4" fill="#38536b"/>
<path d="M137.5,230L137.5,186" fill="none" stroke="#cfd6db" stroke-width="3.2"/>
<path d="M137.5,230L137.5,186" fill="none" stroke="#8ea0ae" stroke-width=".9" transform="translate(-1.2,0)"/>
<rect x="136.7" y="214.533" width="1.6" height="1.6" fill="#7d8f9d"/>
<rect x="136.7" y="199.867" width="1.6" height="1.6" fill="#7d8f9d"/>
<line x1="137.5" y1="186" x2="186" y2="137.5" stroke="#dfe4e8" stroke-width="3.2"/>
<line x1="137.5" y1="186" x2="186" y2="137.5" stroke="#7e8f9d" stroke-width="3" stroke-dasharray=".7 1.1"/>
<path d="M186,137.6L231,137.6" fill="none" stroke="#cfd6db" stroke-width="3.2"/>
<path d="M186,137.6L231,137.6" fill="none" stroke="#8ea0ae" stroke-width=".9" transform="translate(0,-1.2)"/>
<rect x="200.2" y="136.8" width="1.6" height="1.6" fill="#7d8f9d"/>
<rect x="215.2" y="136.8" width="1.6" height="1.6" fill="#7d8f9d"/>
<rect x="419.2" y="101" width="2.8" height="20.5" fill="#38536b"/>
<line x1="420.6" y1="101" x2="459" y2="84.6" stroke="#dfe4e8" stroke-width="3.2"/>
<line x1="420.6" y1="101" x2="459" y2="84.6" stroke="#7e8f9d" stroke-width="3" stroke-dasharray=".7 1.1"/>
<path d="M459,84.6L534,84.6" fill="none" stroke="#cfd6db" stroke-width="3.2"/>
<path d="M459,84.6L534,84.6" fill="none" stroke="#8ea0ae" stroke-width=".9" transform="translate(0,-1.2)"/>
<rect x="476.95" y="83.8" width="1.6" height="1.6" fill="#7d8f9d"/>
<rect x="495.7" y="83.8" width="1.6" height="1.6" fill="#7d8f9d"/>
<rect x="514.45" y="83.8" width="1.6" height="1.6" fill="#7d8f9d"/>
<path d="M772.5,82.6L845,82.6" fill="none" stroke="#cfd6db" stroke-width="3.2"/>
<path d="M772.5,82.6L845,82.6" fill="none" stroke="#8ea0ae" stroke-width=".9" transform="translate(0,-1.2)"/>
<rect x="789.825" y="81.8" width="1.6" height="1.6" fill="#7d8f9d"/>
<rect x="807.95" y="81.8" width="1.6" height="1.6" fill="#7d8f9d"/>
<rect x="826.075" y="81.8" width="1.6" height="1.6" fill="#7d8f9d"/>
<line x1="845" y1="82.6" x2="884.5" y2="98.5" stroke="#dfe4e8" stroke-width="3.2"/>
<line x1="845" y1="82.6" x2="884.5" y2="98.5" stroke="#7e8f9d" stroke-width="3" stroke-dasharray=".7 1.1"/>
<rect x="883" y="98.5" width="3" height="21" fill="#38536b"/>
<path d="M1074,134.1L1197,134.1" fill="none" stroke="#cfd6db" stroke-width="3.2"/>
<path d="M1074,134.1L1197,134.1" fill="none" stroke="#8ea0ae" stroke-width=".9" transform="translate(0,-1.2)"/>
<rect x="1093.7" y="133.3" width="1.6" height="1.6" fill="#7d8f9d"/>
<rect x="1114.2" y="133.3" width="1.6" height="1.6" fill="#7d8f9d"/>
<rect x="1134.7" y="133.3" width="1.6" height="1.6" fill="#7d8f9d"/>
<rect x="1155.2" y="133.3" width="1.6" height="1.6" fill="#7d8f9d"/>
<rect x="1175.7" y="133.3" width="1.6" height="1.6" fill="#7d8f9d"/>
<line x1="102" y1="562.5" x2="85" y2="596" stroke="#dfe4e8" stroke-width="3.2"/>
<line x1="102" y1="562.5" x2="85" y2="596" stroke="#7e8f9d" stroke-width="3" stroke-dasharray=".7 1.1"/>
<path d="M85.5,596L85.5,749" fill="none" stroke="#cfd6db" stroke-width="3.2"/>
<path d="M85.5,596L85.5,749" fill="none" stroke="#8ea0ae" stroke-width=".9" transform="translate(-1.2,0)"/>
<rect x="84.7" y="614.325" width="1.6" height="1.6" fill="#7d8f9d"/>
<rect x="84.7" y="633.45" width="1.6" height="1.6" fill="#7d8f9d"/>
<rect x="84.7" y="652.575" width="1.6" height="1.6" fill="#7d8f9d"/>
<rect x="84.7" y="671.7" width="1.6" height="1.6" fill="#7d8f9d"/>
<rect x="84.7" y="690.825" width="1.6" height="1.6" fill="#7d8f9d"/>
<rect x="84.7" y="709.95" width="1.6" height="1.6" fill="#7d8f9d"/>
<rect x="84.7" y="729.075" width="1.6" height="1.6" fill="#7d8f9d"/>
<line x1="85" y1="749" x2="101" y2="777" stroke="#dfe4e8" stroke-width="3.2"/>
<line x1="85" y1="749" x2="101" y2="777" stroke="#7e8f9d" stroke-width="3" stroke-dasharray=".7 1.1"/>
<path d="M670,586.6L587,586.6L587,775" fill="none" stroke="#cfd6db" stroke-width="3.2"/>
<path d="M670,586.6L587,586.6L587,775" fill="none" stroke="#8ea0ae" stroke-width=".9" transform="translate(0,0)"/>
<rect x="648.45" y="585.8" width="1.6" height="1.6" fill="#7d8f9d"/>
<rect x="627.7" y="585.8" width="1.6" height="1.6" fill="#7d8f9d"/>
<rect x="606.95" y="585.8" width="1.6" height="1.6" fill="#7d8f9d"/>
<rect x="586.2" y="606.733" width="1.6" height="1.6" fill="#7d8f9d"/>
<rect x="586.2" y="627.667" width="1.6" height="1.6" fill="#7d8f9d"/>
<rect x="586.2" y="648.6" width="1.6" height="1.6" fill="#7d8f9d"/>
<rect x="586.2" y="669.533" width="1.6" height="1.6" fill="#7d8f9d"/>
<rect x="586.2" y="690.467" width="1.6" height="1.6" fill="#7d8f9d"/>
<rect x="586.2" y="711.4" width="1.6" height="1.6" fill="#7d8f9d"/>
<rect x="586.2" y="732.333" width="1.6" height="1.6" fill="#7d8f9d"/>
<rect x="586.2" y="753.267" width="1.6" height="1.6" fill="#7d8f9d"/>
<rect x="551" y="656.7" width="37.5" height="7.1" fill="#38536b"/>
<path d="M657,586.8L754,586.8" fill="none" stroke="#cfd6db" stroke-width="3.2"/>
<path d="M657,586.8L754,586.8" fill="none" stroke="#8ea0ae" stroke-width=".9" transform="translate(0,1.2)"/>
<rect x="675.6" y="586" width="1.6" height="1.6" fill="#7d8f9d"/>
<rect x="695" y="586" width="1.6" height="1.6" fill="#7d8f9d"/>
<rect x="714.4" y="586" width="1.6" height="1.6" fill="#7d8f9d"/>
<rect x="733.8" y="586" width="1.6" height="1.6" fill="#7d8f9d"/>
<path d="M990.5,586.8L1089.5,586.8" fill="none" stroke="#cfd6db" stroke-width="3.2"/>
<path d="M990.5,586.8L1089.5,586.8" fill="none" stroke="#8ea0ae" stroke-width=".9" transform="translate(0,1.2)"/>
<rect x="1009.5" y="586" width="1.6" height="1.6" fill="#7d8f9d"/>
<rect x="1029.3" y="586" width="1.6" height="1.6" fill="#7d8f9d"/>
<rect x="1049.1" y="586" width="1.6" height="1.6" fill="#7d8f9d"/>
<rect x="1068.9" y="586" width="1.6" height="1.6" fill="#7d8f9d"/>
<g fill="none" stroke="#9aa1a8" stroke-width=".6"><rect x="622" y="153.7" width="51" height="81"/><rect x="623.7" y="155.4" width="47.6" height="77.6"/><path d="M623.7,155.4L671.3,233M671.3,155.4L623.7,233"/><rect x="622" y="243.7" width="51" height="46.8"/><rect x="623.7" y="245.4" width="47.6" height="43.4"/><path d="M623.7,245.4L671.3,288.8M671.3,245.4L623.7,288.8"/></g>
<path fill="none" stroke="#b9bfc4" stroke-width=".8" d="M681.5,150.2H717.5M721.5,150.2H760M681.5,157.4H717.5M721.5,157.4H760M681.5,164.6H717.5M721.5,164.6H760M681.5,171.8H717.5M721.5,171.8H760M681.5,179H717.5M721.5,179H760M681.5,186.2H717.5M721.5,186.2H760M681.5,193.4H717.5M721.5,193.4H760M681.5,200.6H717.5M721.5,200.6H760M681.5,207.8H717.5M721.5,207.8H760M681.5,215H717.5M721.5,215H760M681.5,222.2H717.5M721.5,222.2H760M681.5,234.2H717.5M721.5,234.2H760M717.5,150.2V234.2M721.5,150.2V234.2"/>
<path fill="none" stroke="#8d959c" stroke-width=".7" d="M740.6,151V234.2M739.4,153l1.2,-2.5l1.2,2.5"/>
<g><rect x="294.5" y="286.6" width="66.8" height="43.2" fill="#fff" stroke="#c9393c" stroke-width="1.1"/>
<rect x="321.3" y="314" width="40" height="15.8" fill="#bf272d"/>
<line x1="321.3" y1="286.6" x2="321.3" y2="329.8" stroke="#c9393c" stroke-width=".9"/>
<line x1="321.3" y1="300.3" x2="361.3" y2="300.3" stroke="#c9393c" stroke-width=".9"/>
<text class="n" x="307.9" y="319.2">2</text>
<text class="s" x="341.3" y="297.2">26,59</text>
<text class="s" x="341.3" y="310.6">53,08</text>
<text class="sw" x="341.3" y="324.7">54,76</text></g>
<g><rect x="250.5" y="412.6" width="65.8" height="42.7" fill="#fff" stroke="#c9393c" stroke-width="1.1"/>
<rect x="277.3" y="440" width="39" height="15.3" fill="#bf272d"/>
<line x1="277.3" y1="412.6" x2="277.3" y2="455.3" stroke="#c9393c" stroke-width=".9"/>
<line x1="277.3" y1="426.3" x2="316.3" y2="426.3" stroke="#c9393c" stroke-width=".9"/>
<text class="n1" transform="translate(264.2,445.3) scale(.64,1)">1</text>
<text class="s" x="296.8" y="423.2">13,74</text>
<text class="s" x="296.8" y="436.6">40,81</text>
<text class="sw" x="296.8" y="450.7">44,37</text></g>
<g><rect x="215.5" y="501.6" width="65.8" height="43.2" fill="#fff" stroke="#c9393c" stroke-width="1.1"/>
<rect x="242.3" y="528" width="39" height="16.8" fill="#bf272d"/>
<line x1="242.3" y1="501.6" x2="242.3" y2="544.8" stroke="#c9393c" stroke-width=".9"/>
<line x1="242.3" y1="514.8" x2="281.3" y2="514.8" stroke="#c9393c" stroke-width=".9"/>
<text class="n1" transform="translate(229.2,534.3) scale(.64,1)">1</text>
<text class="s" x="261.8" y="512.2">16,55</text>
<text class="s" x="261.8" y="525.6">39,15</text>
<text class="sw" x="261.8" y="539.7">40,79</text></g>
<g><rect x="187.5" y="744.1" width="65.8" height="43.2" fill="#fff" stroke="#c9393c" stroke-width="1.1"/>
<rect x="214.3" y="770" width="39" height="17.3" fill="#bf272d"/>
<line x1="214.3" y1="744.1" x2="214.3" y2="787.3" stroke="#c9393c" stroke-width=".9"/>
<line x1="214.3" y1="757.05" x2="253.3" y2="757.05" stroke="#c9393c" stroke-width=".9"/>
<text class="n1" transform="translate(201.2,776.8) scale(.64,1)">1</text>
<text class="s" x="233.8" y="754.7">10,51</text>
<text class="s" x="233.8" y="768.1">36,28</text>
<text class="sw" x="233.8" y="782.2"></text></g>
<g><rect x="456.5" y="560.6" width="66.3" height="42.7" fill="#fff" stroke="#c9393c" stroke-width="1.1"/>
<rect x="482.8" y="589" width="40" height="14.3" fill="#bf272d"/>
<line x1="482.8" y1="560.6" x2="482.8" y2="603.3" stroke="#c9393c" stroke-width=".9"/>
<line x1="482.8" y1="574.8" x2="522.8" y2="574.8" stroke="#c9393c" stroke-width=".9"/>
<text class="n1" transform="translate(469.95,593.3) scale(.64,1)">1</text>
<text class="s" x="502.8" y="571.2">10,88</text>
<text class="s" x="502.8" y="584.6">44,14</text>
<text class="sw" x="502.8" y="598.7">47,09</text></g>
<g><rect x="855.5" y="206.6" width="65.8" height="42.7" fill="#fff" stroke="#c9393c" stroke-width="1.1"/>
<rect x="882.3" y="234" width="39" height="15.3" fill="#bf272d"/>
<line x1="882.3" y1="206.6" x2="882.3" y2="249.3" stroke="#c9393c" stroke-width=".9"/>
<line x1="882.3" y1="220.3" x2="921.3" y2="220.3" stroke="#c9393c" stroke-width=".9"/>
<text class="n1" transform="translate(869.2,239.3) scale(.64,1)">1</text>
<text class="s" x="901.8" y="217.2">20,17</text>
<text class="s" x="901.8" y="230.6">41,90</text>
<text class="sw" x="901.8" y="244.7">43,58</text></g>
<g><rect x="998" y="298.1" width="66.3" height="42.7" fill="#fff" stroke="#c9393c" stroke-width="1.1"/>
<rect x="1024.3" y="325" width="40" height="15.8" fill="#bf272d"/>
<line x1="1024.3" y1="298.1" x2="1024.3" y2="340.8" stroke="#c9393c" stroke-width=".9"/>
<line x1="1024.3" y1="311.55" x2="1064.3" y2="311.55" stroke="#c9393c" stroke-width=".9"/>
<text class="n1" transform="translate(1011.45,330.8) scale(.64,1)">1</text>
<text class="s" x="1044.3" y="308.7">17,56</text>
<text class="s" x="1044.3" y="322.1">44,39</text>
<text class="sw" x="1044.3" y="336.2">46,53</text></g>
<g><rect x="786.5" y="430.6" width="66.8" height="42.7" fill="#fff" stroke="#c9393c" stroke-width="1.1"/>
<rect x="813.3" y="457.5" width="40" height="15.8" fill="#bf272d"/>
<line x1="813.3" y1="430.6" x2="813.3" y2="473.3" stroke="#c9393c" stroke-width=".9"/>
<line x1="813.3" y1="444.05" x2="853.3" y2="444.05" stroke="#c9393c" stroke-width=".9"/>
<text class="n1" transform="translate(800.2,463.3) scale(.64,1)">1</text>
<text class="s" x="833.3" y="441.2">18,49</text>
<text class="s" x="833.3" y="454.6">41,59</text>
<text class="sw" x="833.3" y="468.7">43,17</text></g>
<g><rect x="891.5" y="431.1" width="66.8" height="43.2" fill="#fff" stroke="#c9393c" stroke-width="1.1"/>
<rect x="917.8" y="459" width="40.5" height="15.3" fill="#bf272d"/>
<line x1="917.8" y1="431.1" x2="917.8" y2="474.3" stroke="#c9393c" stroke-width=".9"/>
<line x1="917.8" y1="445.05" x2="958.3" y2="445.05" stroke="#c9393c" stroke-width=".9"/>
<text class="n1" transform="translate(904.95,463.8) scale(.64,1)">1</text>
<text class="s" x="938.05" y="441.7">18,49</text>
<text class="s" x="938.05" y="455.1">40,09</text>
<text class="sw" x="938.05" y="469.2">41,67</text></g>
<text class="l" x="477.6" y="107.5">3,36</text>
<text class="l" x="500.1" y="154.5">10,78</text>
<text class="l" x="206.1" y="188">7,12</text>
<text class="l" x="269.6" y="189">11,57</text>
<text class="l" x="383.6" y="257.5">15,02</text>
<text class="l" x="258.1" y="310.5">13,74</text>
<text class="l" x="405.6" y="307.5">10,43</text>
<text class="l" x="494.6" y="279">3,20</text>
<text class="l" x="493.6" y="312.5">2,08</text>
<text class="l" x="322.6" y="389">4,03</text>
<text class="l" x="206.1" y="400.5">12,53</text>
<text class="l" x="335.6" y="464.5">10,51</text>
<text class="l" x="261.1" y="489.5">16,55</text>
<text class="l" x="323.6" y="591.5">8,85</text>
<text class="l" x="106.1" y="630.5">3,28</text>
<text class="l" x="199.1" y="630.5">10,19</text>
<text class="l" x="281.6" y="637">3,56</text>
<text class="l" x="104.1" y="725">3,28</text>
<text class="l" x="163.6" y="725">15,09</text>
<text class="l" x="278.6" y="725">3,74</text>
<text class="l" x="282.6" y="772">3,70</text>
<text class="l" x="471.6" y="432.5">5,52</text>
<text class="l" x="546.6" y="432.5">5,62</text>
<text class="l" x="628.6" y="421">1,49</text>
<text class="l" x="486.1" y="518">20,63</text>
<text class="l" x="601.6" y="526">10,88</text>
<text class="l" x="567.1" y="609">5,90</text>
<text class="l" x="468.1" y="699.5">11,73</text>
<text class="l" x="569.1" y="732.7">3,68</text>
<text class="l" x="401.6" y="749">8,09</text>
<text class="l" x="815.6" y="105.5">3,36</text>
<text class="l" x="810.6" y="154.5">10,53</text>
<text class="l" x="940.1" y="189.5">20,17</text>
<text class="l" x="819.6" y="264">4,00</text>
<text class="l" x="895.1" y="272">7,20</text>
<text class="l" x="1124.6" y="157.5">4,28</text>
<text class="l" x="1139.6" y="232">12,14</text>
<text class="l" x="1088.6" y="327">10,03</text>
<text class="l" x="1141.6" y="326">4,66</text>
<text class="l" x="949.1" y="377">7,04</text>
<text class="l" x="1038.1" y="395">4,03</text>
<text class="l" x="1026.6" y="470">10,53</text>
<text class="l" x="1152.1" y="507">17,56</text>
<text class="l" x="1028.6" y="577">3,16</text>
<text class="l" x="932.6" y="549">18,49</text>
<text class="l" x="810.6" y="545.5">18,49</text>
<text class="l" x="710.6" y="527">9,45</text>
<text class="l" x="715.6" y="577">3,16</text>
<text class="l" x="708.6" y="373">2,05</text>
<text class="l" x="707.6" y="404">2,92</text>
<text class="l" x="785.6" y="379">8,68</text>
<text x="637.6" y="654.7" style="font-size:27.2px;font-weight:700;letter-spacing:.15px;fill:#38536b">Подъезд 2</text>
</svg></body></html>
